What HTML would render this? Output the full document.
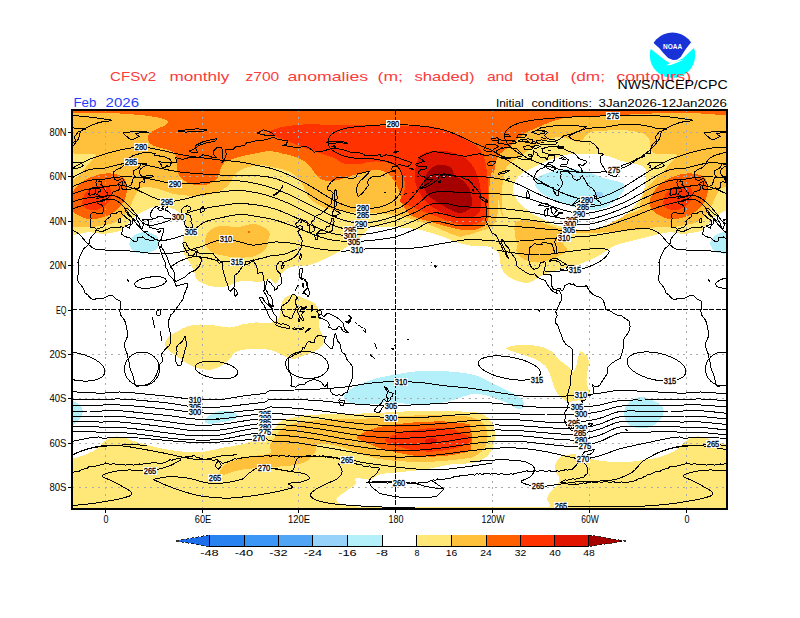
<!DOCTYPE html>
<html><head><meta charset="utf-8"><title>CFSv2 monthly z700 anomalies</title>
<style>
html,body{margin:0;padding:0;background:#fff;}
body{width:800px;height:618px;overflow:hidden;font-family:"Liberation Sans",sans-serif;}
svg{display:block;position:absolute;left:0;top:0;}
text{font-family:"Liberation Sans",sans-serif;}
</style></head><body>
<svg width="800" height="618" viewBox="0 0 800 618">
<defs><clipPath id="fc"><rect x="72" y="110" width="655" height="399"/></clipPath></defs>
<rect x="0" y="0" width="800" height="618" fill="#fff"/>

<g clip-path="url(#fc)" shape-rendering="crispEdges">
<path id="s0" d="M104 234C105.4 233.8 109.8 233 112.5 232.5C115.2 232 117.7 232.2 120 231C122.3 229.8 124.2 227.7 126.2 225.5C128.3 223.3 130 220.2 132.5 218C135 215.8 138.3 214.2 141.2 212.5C144.2 210.8 147.2 209 150 208C152.8 207 154.7 206.3 158 206.2C161.3 206.2 166.3 206.4 170 207.5C173.7 208.6 177.6 211 180 213C182.4 215 183.4 217 184.2 219.2C185.1 221.5 185.1 224.2 185 226.8C184.9 229.2 184.1 231.5 183.8 234.2C183.4 237 183 239.9 183 243C183 246.1 183.5 251 183.8 253C184 255 183.7 253.6 184.5 255C185.3 256.4 187.2 258.8 188.8 261.2C190.3 263.8 192.5 267.1 193.8 270C195 272.9 194.6 276.5 196.2 278.8C197.9 281 200.6 282.4 203.8 283.8C206.9 285.1 211 286.6 215 287C219 287.4 223.3 287 227.5 286C231.7 285 236.2 281.8 240 281C243.8 280.2 246.7 281.1 250 281.2C253.3 281.4 256.7 282.4 260 282C263.3 281.6 267.3 278.7 270 279C272.7 279.3 274.4 284.6 276.2 283.8C278.1 282.9 279 276.5 281.2 273.8C283.5 271 286.9 268.8 290 267.5C293.1 266.2 296.7 266.2 300 265.8C303.3 265.3 306.2 266 310 265C313.8 264 317.9 262.1 322.5 260C327.1 257.9 332.3 255.4 337.5 252.5C342.7 249.6 349.2 245.8 353.8 242.5C358.3 239.2 362.3 235 365 232.5C367.7 230 366.7 228.4 370 227.5C373.3 226.6 380 227 385 227C390 227 395 227.2 400 227.5C405 227.8 410 227.9 415 228.8C420 229.6 425 231 430 232.5C435 234 440.4 235.8 445 237.5C449.6 239.2 453.3 241.2 457.5 242.5C461.7 243.8 465.8 244.9 470 245.5C474.2 246.1 478.8 246 482.5 246.2C486.2 246.5 490 246.2 492.5 247C495 247.8 496.2 249.3 497.5 251.2C498.8 253.2 499.4 256 500 258.8C500.6 261.5 500.2 264.8 501.2 267.5C502.3 270.2 504 272.9 506.2 275C508.5 277.1 511.9 278.7 515 280C518.1 281.3 522.1 282.8 525 283C527.9 283.2 530 282.4 532.5 281.2C535 280.1 537.1 277.7 540 276.2C542.9 274.8 546.7 273.6 550 272.5C553.3 271.4 556.7 270.4 560 269.5C563.3 268.6 567.1 267.8 570 267C572.9 266.2 574.2 266.2 577.5 265C580.8 263.8 586.2 261.7 590 260C593.8 258.3 597.1 256.7 600 255C602.9 253.3 605 251.6 607.5 250C610 248.4 612.1 246.8 615 245.5C617.9 244.2 620.8 243.6 625 242.5C629.2 241.4 635 240 640 238.8C645 237.5 650 236.1 655 235C660 233.9 666.7 232.3 670 232C673.3 231.7 672.3 232.7 675 233C677.7 233.3 684.2 233.8 686 234L686 100L104 100Z" fill="#ffe878"/>
<use href="#s0" x="581"/>
<use href="#s0" x="-581"/>
<path id="s1" d="M104 225C105.8 224.6 111.9 223.8 115 222.5C118.1 221.2 120.3 219.6 122.5 217.5C124.7 215.4 126.4 212.5 128 210C129.6 207.5 130.8 205 132 202.5C133.2 200 134.4 197.2 135.5 195C136.6 192.8 137.2 190.6 138.8 189.2C140.3 187.9 142.3 187.2 145 187C147.7 186.8 151.7 187.3 155 188C158.3 188.7 161.7 190.2 165 191.2C168.3 192.3 171.2 193.5 175 194.2C178.8 195 183.3 195.2 187.5 195.5C191.7 195.8 196.2 196.2 200 196C203.8 195.8 206.7 195.1 210 194.2C213.3 193.4 217.1 192.4 220 191C222.9 189.6 225.6 187.8 227.5 186C229.4 184.2 230 182.5 231.2 180.5C232.5 178.5 233.1 176.1 235 174.2C236.9 172.4 239.6 170.6 242.5 169.2C245.4 167.9 249.2 166.7 252.5 166C255.8 165.3 259.6 164.9 262.5 165C265.4 165.1 266.7 166 270 166.8C273.3 167.5 278.8 168.1 282.5 169.2C286.2 170.4 289.8 171.8 292.5 173.5C295.2 175.2 296.9 177 298.8 179.2C300.6 181.5 302.3 184 303.8 186.8C305.2 189.5 305.8 193 307.5 195.5C309.2 198 311.2 199.9 313.8 201.8C316.2 203.6 319 205.3 322.5 206.8C326 208.2 330.4 209.7 335 210.5C339.6 211.3 345 211.4 350 211.8C355 212.1 361.7 212.4 365 212.5C368.3 212.6 366.7 212.3 370 212.5C373.3 212.7 380 213.1 385 213.8C390 214.4 395 215.2 400 216.2C405 217.3 410 218.5 415 220C420 221.5 425 223.1 430 225C435 226.9 440.4 229.4 445 231.2C449.6 233.1 453.3 235 457.5 236.2C461.7 237.5 466.2 238.5 470 238.8C473.8 239 477.1 238.6 480 238C482.9 237.4 485.4 236.3 487.5 235C489.6 233.7 490.8 231.2 492.5 230C494.2 228.8 495.4 227.5 497.5 227.5C499.6 227.5 502.5 228.5 505 230C507.5 231.5 510.8 233.8 512.5 236.2C514.2 238.8 514.2 242.1 515 245C515.8 247.9 515.8 251.2 517.5 253.8C519.2 256.2 521.7 258.5 525 260C528.3 261.5 533.3 262.5 537.5 262.5C541.7 262.5 546.2 261.2 550 260C553.8 258.8 557.1 256.7 560 255C562.9 253.3 567.7 252.9 567.5 250C567.3 247.1 558.3 240.2 558.8 237.4C559.2 234.6 564.4 234.1 570 233.3C575.6 232.6 585 233.2 592.5 232.9C600 232.6 610.4 232 615 231.8C619.6 231.5 616.9 231.6 620 231.4C623.1 231.1 629.1 230.7 633.6 230.2C638.1 229.7 642.6 229 647.2 228.4C651.7 227.9 656.2 227.1 660.7 226.8C665.3 226.6 670.1 227.1 674.3 226.8C678.5 226.5 684.1 225.3 686 225L686 100L104 100Z" fill="#ffc03c"/>
<use href="#s1" x="581"/>
<use href="#s1" x="-581"/>
<path id="s2" d="M503 183C502.7 185 502.2 186.3 502.1 188.5C501.9 190.8 502.1 193.9 502.1 196.6C502.1 199.3 502 202 502.1 204.7C502.1 207.4 502 210.4 502.4 212.8C502.8 215.2 503.3 217.7 504.5 219.3C505.7 220.9 507.3 222.1 509.4 222.5C511.4 222.9 514.1 222.3 516.6 221.7C519.2 221.2 522 219.6 524.7 219.3C527.4 219 530.1 219.6 532.8 220.1C535.5 220.6 537.9 221.6 540.9 222.5C543.9 223.5 547.5 224.8 550.6 225.8C553.8 226.7 556.7 228.3 559.9 228.2C563.1 228 566.4 226.1 570 225C573.6 223.9 577.5 222.6 581.3 221.6C585 220.7 588.4 219.9 592.5 219.4C596.6 218.8 601.5 218.8 606 218.3C610.5 217.7 615 216.9 619.5 216C624 215.1 628.9 214.1 633 212.6C637.1 211.1 643 207.9 644.3 207C645.5 206.2 640.8 209 640.4 207.6C639.9 206.2 640.6 201.6 641.5 198.5C642.4 195.5 644 192.5 646 189.5C648.1 186.5 651.3 183.1 654 180.4C656.6 177.8 659.4 176.3 661.9 173.6C664.3 171 666.1 167.7 668.7 164.6C671.2 161.5 677.6 156.6 677 154.9C676.5 153.1 669.1 154.2 665.3 153.9C661.4 153.7 656.5 154.3 654 153.3C651.4 152.3 650.7 149.9 650 148C649.3 146.1 650.4 143.9 650 142C649.6 140.1 648.8 138.2 647.5 136.8C646.2 135.2 645 133.9 642.5 133C640 132.1 636.2 131.6 632.5 131.1C628.8 130.6 624.2 130 620 129.9C615.8 129.8 611.7 130.3 607.5 130.5C603.3 130.7 598.2 130.6 595 131.1C591.8 131.6 589.8 132.3 588 133.5C586.2 134.7 585.3 136.6 584 138C582.7 139.4 581.7 141.5 580 142C578.3 142.5 576.1 141.6 574 141C571.9 140.4 569.8 139.2 567.5 138.5C565.2 137.8 562.5 137.1 560 137C557.5 136.9 555 137.4 552.5 138C550 138.6 547.5 139.5 545 140.5C542.5 141.5 540 142.8 537.5 144.2C535 145.7 532.5 147.6 530 149.2C527.5 150.9 525 152.6 522.5 154.2C520 155.9 517.3 157.6 515 159.2C512.7 160.9 510.4 162.4 508.8 164.2C507.1 166.1 505.8 168.4 505 170.5C504.2 172.6 504.1 174.7 503.8 176.8C503.4 178.8 503.3 181 503 183Z" fill="#ffe878"/>
<use href="#s2" x="-581"/>
<path id="s3" d="M497.5 196C497.3 196 498.3 201.8 498.3 205C498.3 208.2 497.9 212 497.3 215C496.7 218 495.6 220.9 494.5 223C493.4 225.1 492.2 226.3 490.5 227.5C488.8 228.7 486.4 229.2 484 230C481.6 230.8 478.3 231.8 476 232.5C473.7 233.2 472.3 233.8 470 234.5C467.7 235.2 462.8 235.4 462 236.5C461.2 237.6 462 239.8 465 241C468 242.2 475.5 242.8 480 244C484.5 245.2 488.7 246.5 492 248C495.3 249.5 497.3 252 500 253C502.7 254 505.3 254.5 508 254C510.7 253.5 514.4 251.7 516 250C517.6 248.3 517.6 246 517.5 244C517.4 242 516.1 240.5 515.6 238C515.1 235.5 514.5 231.8 514.4 229C514.3 226.2 515.7 222.3 515 221C514.3 219.7 511.7 221.3 510 221C508.3 220.7 506.5 220.3 505 219C503.5 217.7 501.9 215.3 501 213C500.1 210.7 500.1 207.8 499.5 205C498.9 202.2 497.7 196 497.5 196Z" fill="#ffe878"/>
<path id="s4" d="M513.8 184C514.3 181.9 515 180.7 516.2 179C517.5 177.3 519.4 175.5 521.2 174C523.1 172.5 525 171.3 527.5 170C530 168.7 533.3 167.3 536.2 166C539.2 164.7 541.9 163.3 545 162C548.1 160.7 551.2 159.2 555 158C558.8 156.8 562.9 155.2 567.5 154.5C572.1 153.8 577.9 154.1 582.5 154C587.1 153.9 590.8 153.7 595 154C599.2 154.3 603.3 154.9 607.5 156C611.7 157.1 616.2 159.3 620 160.5C623.8 161.7 626.7 162.2 630 163C633.3 163.8 637.5 164.2 640 165C642.5 165.8 643.9 166.7 645 168C646.1 169.3 646.4 170.5 646.5 173C646.6 175.5 646.2 179.5 645.5 183C644.8 186.5 644.5 190.3 642.5 194.2C640.5 198.2 637.1 203 633.8 206.8C630.4 210.5 626.5 214 622.5 216.8C618.5 219.5 614.6 221.5 610 223.5C605.4 225.5 600 227.7 595 228.8C590 229.8 585 230 580 229.8C575 229.5 570 228.6 565 227.5C560 226.4 554.6 224.8 550 223C545.4 221.2 541.5 219 537.5 216.8C533.5 214.5 529.6 212 526.2 209.2C522.9 206.5 519.7 203.4 517.5 200.5C515.3 197.6 513.6 194.5 513 191.8C512.4 189 513.2 186.1 513.8 184Z" fill="#ffffff"/>
<path id="s5" d="M535.1 182.3C535.7 180.6 536.9 178.2 539 176.6C541 175.1 544.2 173.9 547.5 172.8C550.8 171.7 555 170.7 558.8 170.1C562.5 169.5 566.3 169.2 570 169.2C573.8 169.2 577.5 169.4 581.3 170.1C585 170.9 588.4 172.2 592.5 173.7C596.6 175.2 601.9 177.6 606 178.9C610.1 180.1 614.3 180.2 617.3 181.1C620.3 182.1 622.9 183 624 184.5C625.1 186 624.8 188.3 624 190.1C623.3 192 621.4 193.7 619.5 195.8C617.6 197.8 615.4 200.4 612.8 202.5C610.1 204.6 607.1 206.8 603.8 208.1C600.4 209.4 596.3 210.2 592.5 210.4C588.8 210.6 585 210 581.3 209.3C577.5 208.5 573.8 207.2 570 205.9C566.3 204.6 562.5 202.9 558.8 201.4C555 199.9 550.7 198.6 547.5 196.9C544.3 195.2 541.6 192.9 539.6 191.3C537.7 189.6 536.6 188.3 535.8 186.8C535.1 185.3 534.6 183.9 535.1 182.3Z" fill="#b4f0fa"/>
<path id="s6" d="M595.9 192.4C596.8 191.8 600.3 192 601.5 192.4C602.7 192.8 603.5 193.9 603.3 194.6C603.1 195.4 601.6 196.7 600.4 196.9C599.1 197.1 596.6 196.5 595.9 195.8C595.1 195 594.9 192.9 595.9 192.4Z" fill="#96d2fa"/>
<path id="s7" d="M205 243C204.6 240 205.8 235.6 207.5 233C209.2 230.4 212.1 228.8 215 227.5C217.9 226.2 221.7 225.5 225 225.5C228.3 225.5 231.7 227.5 235 227.5C238.3 227.5 241.7 226.1 245 225.5C248.3 224.9 251.7 223.6 255 224C258.3 224.4 262.5 226.3 265 228C267.5 229.7 269.6 231.7 270 234C270.4 236.3 268.3 239.3 267.5 242C266.7 244.7 267.1 247.7 265 250C262.9 252.3 258.3 254.8 255 256C251.7 257.2 248.8 257.3 245 257.5C241.2 257.7 236.7 257.4 232.5 257C228.3 256.6 223.8 256 220 255C216.2 254 212.5 253 210 251C207.5 249 205.4 246 205 243Z" fill="#ffc03c"/>
<path id="s8" d="M248 231L250 231L250 233L248 233Z" fill="#ff6000"/>
<path id="s9" d="M104 113C106.7 113.1 113.2 113.1 120 113.5C126.8 113.9 137.9 114.7 145 115.5C152.1 116.3 158.7 117.5 162.5 118.5C166.3 119.5 167.6 120.6 168 121.8C168.4 122.9 167 124.2 165 125.5C163 126.8 158.8 128 156.2 129.2C153.7 130.5 151 131.5 149.5 133C148 134.5 147.5 136.3 147.5 138C147.5 139.7 148 141.5 149.5 143C151 144.5 153.5 145.7 156.2 146.8C159 147.8 163.3 148.3 166.2 149.2C169.2 150.2 172 151 173.8 152.5C175.5 154 176.5 155.6 177 158C177.5 160.4 176.8 164.2 177 166.8C177.2 169.2 177.1 170.9 178 173C178.9 175.1 180.5 177.5 182.5 179.2C184.5 181 187.1 182.7 190 183.8C192.9 184.8 196.7 185.5 200 185.5C203.3 185.5 207.1 184.8 210 183.5C212.9 182.2 215.8 180.4 217.5 178C219.2 175.6 219.3 171.8 220.5 169.2C221.7 166.7 222.5 164.2 224.5 162.5C226.5 160.8 229.1 159.9 232.5 158.8C235.9 157.6 240.8 156.5 245 155.5C249.2 154.5 253.3 153.8 257.5 153C261.7 152.2 265.8 150.9 270 151C274.2 151.1 278.3 152.5 282.5 153.5C286.7 154.5 291.2 155.4 295 156.8C298.8 158.1 302.3 159.9 305 161.8C307.7 163.6 309.5 165.9 311.2 168C313 170.1 313.8 172.4 315.5 174.2C317.2 176.1 318.8 178.1 321.2 179.2C323.7 180.4 326.7 181 330 181C333.3 181 337.5 180.2 341.2 179.2C345 178.3 348.5 176.8 352.5 175.5C356.5 174.2 361 172.7 365 171.8C369 170.8 372.9 170 376.2 170C379.6 170 382.5 170.6 385 171.8C387.5 172.9 389.4 174.7 391.2 176.8C393.1 178.8 394.9 181.8 396.2 184.2C397.6 186.8 398.7 189.2 399.5 191.8C400.3 194.2 400.5 196.8 401.2 199.2C402 201.8 402.5 204.5 403.8 206.8C405 209 407.4 211.5 408.8 213C410.1 214.5 409.5 214.8 412.1 216C414.7 217.2 420.2 218.9 424.3 220.1C428.3 221.4 432.4 222.4 436.4 223.5C440.5 224.7 444.5 225.9 448.5 226.9C452.6 227.9 456.6 229 460.7 229.6C464.7 230.2 469.2 230.8 472.8 230.3C476.5 229.9 480 228.6 482.5 226.9C485 225.2 486.8 222.5 487.9 220.1C489 217.8 489 215.4 489.1 212.8C489.3 210.2 488.8 207.4 488.8 204.7C488.8 202 489 199.3 489.1 196.6C489.2 193.9 489.3 191.2 489.4 188.5C489.6 185.8 489.6 183.1 489.9 180.5C490.3 177.8 490.9 173.6 491.6 172.4C492.2 171.1 493.2 173.9 493.8 173C494.3 172.1 494.6 168.8 495 166.8C495.4 164.7 495.6 162.4 496.2 160.5C496.9 158.6 497.7 157 498.8 155.5C499.8 154 501 153 502.5 151.8C504 150.5 505.8 149.2 507.5 148C509.2 146.8 510.8 145.7 512.5 144.2C514.2 142.8 515.8 140.8 517.5 139.2C519.2 137.7 520.8 136.2 522.5 134.9C524.2 133.7 525.4 132.8 527.5 131.8C529.6 130.7 532.1 129.8 535 128.6C537.9 127.3 541.7 125.6 545 124.2C548.3 122.9 551.2 121.6 555 120.5C558.8 119.4 563.3 118.1 567.5 117.4C571.7 116.7 574.6 116.5 580 116.2C585.4 116 593.3 116 600 115.8C606.7 115.5 613.3 115.3 620 115C626.7 114.7 634.2 114.3 640 114C645.8 113.7 650 113.6 655 113.4C660 113.2 664.8 113.2 670 113.1C675.2 113 683.3 113 686 113L686 100L104 100Z" fill="#ff6000"/>
<use href="#s9" x="581"/>
<use href="#s9" x="-581"/>
<path id="s10" d="M649.4 203.1C649.5 200.8 650.4 197.8 651.7 195.1C653 192.5 655.1 189.7 657.3 187.2C659.6 184.8 662.3 182.3 665.3 180.4C668.3 178.5 672.1 177 675.5 175.9C678.9 174.8 682.1 173.9 685.6 173.6C689.2 173.3 693.8 173.3 697 174.1C700.2 174.8 703.1 176.2 704.9 178.2C706.7 180.2 707.4 183.3 707.8 186.1C708.2 188.9 707.8 192.3 707.1 195.1C706.5 198 705.3 200.6 703.7 203.1C702.2 205.5 700.5 207.8 698.1 209.9C695.6 211.9 692.2 214.1 689 215.5C685.8 216.9 682.4 218 678.9 218.5C675.3 218.9 671.1 219.1 667.5 218.5C663.9 217.8 660.1 216 657.3 214.4C654.6 212.8 652.6 210.6 651.2 208.7C649.9 206.8 649.3 205.3 649.4 203.1Z" fill="#ff6000"/>
<use href="#s10" x="-581"/>
<path id="s11" d="M663.4 201.9C663.6 199.9 664.2 196.3 665.7 194C667.2 191.7 669.8 189.8 672.5 188.4C675.1 186.9 678.7 185.6 681.5 185.4C684.3 185.2 687.5 186 689.4 187.2C691.3 188.5 692.6 190.6 692.8 192.9C693 195.1 691.9 198.5 690.6 200.8C689.2 203.1 687.2 204.9 684.9 206.5C682.6 208 679.6 209.8 677 210.3C674.3 210.8 671.1 210 669.1 209.4C667 208.8 665.5 207.7 664.5 206.5C663.6 205.2 663.2 204 663.4 201.9Z" fill="#ff3200"/>
<use href="#s11" x="-581"/>
<path id="s12" d="M268 133.5C267.8 132.8 267.2 132.2 270 131C272.8 129.8 278.8 127.6 285 126.5C291.2 125.4 299.6 124.5 307.5 124.2C315.4 124 322.1 124.8 332.5 125C342.9 125.2 359.6 125.3 370 125.5C380.4 125.7 387.6 126 395 126C402.4 126 408.9 125.4 414.6 125.5C420.3 125.5 423.5 125.3 429.1 126.2C434.8 127.1 442.5 128.8 448.5 131.1C454.6 133.3 460.7 136.9 465.5 139.6C470.4 142.2 474.6 144 477.7 146.8C480.7 149.7 482.2 152.5 483.7 156.5C485.3 160.6 486.2 165.8 486.9 171.1C487.6 176.4 487.8 182.4 487.9 188.1C487.9 193.8 487.8 200.4 487.4 205.1C487 209.7 486.7 213.2 485.4 216C484.2 218.8 482.6 220.6 480.1 222.1C477.6 223.6 473.6 224.6 470.4 225C467.2 225.4 464.3 224.9 460.7 224.3C457 223.6 452.6 222.4 448.5 221.1C444.5 219.8 440.5 217.8 436.4 216.3C432.4 214.7 428.3 213.5 424.3 211.9C420.2 210.3 416.2 208.5 412.1 206.8C408.1 205 401.4 203.5 400 201.4C398.6 199.4 402.7 196.9 403.5 194.2C404.3 191.6 405 188.3 405 185.5C405 182.7 404.3 179.8 403.5 177.2C402.7 174.8 401.8 172.7 400 170.5C398.2 168.3 395.4 165.7 392.5 164.2C389.6 162.8 386.2 162.2 382.5 161.8C378.8 161.3 373.8 161.4 370 161.8C366.2 162.1 364.2 163.6 360 164C355.8 164.4 349.2 164.9 345 164C340.8 163.1 339.2 160.3 335 158.5C330.8 156.7 324.2 154.4 320 153C315.8 151.6 313.3 151.2 310 150C306.7 148.8 303.3 147.3 300 146C296.7 144.7 293.3 143.3 290 142C286.7 140.7 283.2 139.2 280 138C276.8 136.8 273 135.8 271 135C269 134.2 268.2 134.2 268 133.5Z" fill="#ff3200"/>
<path id="s13" d="M415.8 166.3C416.8 162.4 418 157.8 420.6 155.3C423.3 152.8 427.3 151.9 431.6 151.2C435.8 150.5 441.3 150.5 446.1 151.2C451 151.9 456.6 153.4 460.7 155.3C464.7 157.2 467.8 159.6 470.4 162.6C473 165.6 474.8 169.7 476.5 173.5C478.1 177.4 479.3 181.2 480.1 185.7C480.9 190.1 481.3 196 481.3 200.2C481.3 204.5 481.5 208.3 480.1 211.2C478.7 214 475.8 216 472.8 217.2C469.8 218.4 465.5 218.6 461.9 218.4C458.3 218.3 454.8 217.8 451 216.5C447.1 215.2 442.9 213 438.8 210.7C434.8 208.4 430.1 206 426.7 202.7C423.3 199.3 420.2 194.6 418.2 190.5C416.2 186.5 415 182.4 414.6 178.4C414.2 174.3 414.8 170.1 415.8 166.3Z" fill="#e11400"/>
<path id="s14" d="M424.3 188.1C423.7 184.7 424.3 179.4 425.5 176C426.7 172.5 428.9 169.3 431.6 167.5C434.2 165.6 438 165 441.3 165C444.5 165 448.7 165.8 451 167.5C453.2 169.1 452.6 172.5 454.6 174.7C456.6 177 460.7 178.6 463.1 180.8C465.5 183 467.8 185.3 469.2 188.1C470.6 190.9 471.2 194.8 471.6 197.8C472 200.8 472.6 204 471.6 206.3C470.6 208.6 468 210.6 465.5 211.6C463.1 212.7 459.9 213.1 457 212.6C454.2 212.1 451.6 210.3 448.5 208.7C445.5 207.1 442.1 204.9 438.8 202.9C435.6 200.9 431.6 199.1 429.1 196.6C426.7 194.1 424.9 191.5 424.3 188.1Z" fill="#a50000"/>
<path id="s15" d="M129.2 244.2C128.9 241.8 130.5 238.7 132.5 236.8C134.5 234.8 138.1 233.1 141.2 232.5C144.4 231.9 148.5 232.1 151.2 233C154 233.9 156.8 235.9 158 238C159.2 240.1 159.5 243.3 158.8 245.5C158 247.7 156.2 249.7 153.8 251C151.2 252.3 147 253.4 143.8 253.5C140.5 253.6 136.9 253.3 134.5 251.8C132.1 250.2 129.6 246.8 129.2 244.2Z" fill="#b4f0fa"/>
<use href="#s15" x="581"/>
<path id="s16" d="M165 343.8C165.4 341.9 166.7 338.3 168.8 336.2C170.8 334.2 174.4 332.9 177.5 331.2C180.6 329.6 183.8 327.4 187.5 326.2C191.2 325.1 195.4 324.6 200 324.5C204.6 324.4 210 325 215 325.5C220 326 225.4 327.7 230 327.5C234.6 327.3 238.3 325.3 242.5 324.5C246.7 323.7 250.8 322.8 255 322.5C259.2 322.2 264.2 323.2 267.5 323C270.8 322.8 272.9 322.6 275 321.2C277.1 319.9 279 317.7 280 315C281 312.3 280.4 307.9 281.2 305C282.1 302.1 282.9 299.2 285 297.5C287.1 295.8 290.4 294.8 293.8 295C297.1 295.2 301.5 297.3 305 298.8C308.5 300.2 312.5 301.5 315 303.8C317.5 306 319.4 309.6 320 312.5C320.6 315.4 318.8 318.3 318.8 321.2C318.8 324.2 319.2 327.3 320 330C320.8 332.7 323.3 335 323.8 337.5C324.2 340 324 342.7 322.5 345C321 347.3 317.9 349.6 315 351.2C312.1 352.9 308.3 353.8 305 355C301.7 356.2 297.9 358.3 295 358.8C292.1 359.2 290 358.3 287.5 357.5C285 356.7 282.9 355 280 353.8C277.1 352.5 273.8 350.8 270 350C266.2 349.2 261.7 348.8 257.5 348.8C253.3 348.7 248.8 348.9 245 349.5C241.2 350.1 237.5 351 235 352.5C232.5 354 232.1 356.7 230 358.8C227.9 360.8 225.4 363.2 222.5 365C219.6 366.8 216.2 368.9 212.5 369.5C208.8 370.1 203.8 369.5 200 368.8C196.2 368 193.3 366.7 190 365C186.7 363.3 183.1 360.8 180 358.8C176.9 356.7 173.5 354.4 171.2 352.5C169 350.6 167.3 349 166.2 347.5C165.2 346 164.6 345.6 165 343.8Z" fill="#ffe878"/>
<path id="s17" d="M506 347.9C506.5 347.1 510.1 346.3 512.9 345.8C515.6 345.3 519.1 344.9 522.5 344.9C525.9 344.8 530.1 345 533.5 345.4C537 345.8 540.2 346.2 543.1 347.2C546.1 348.2 549.3 349.9 551.4 351.3C553.5 352.7 554.1 354 555.5 355.4C556.9 356.9 558 358.8 559.6 360.3C561.3 361.8 563.4 363 565.2 364.4C566.9 365.8 568.8 367.4 570 368.5C571.1 369.7 571.3 370.8 572 371.3C572.7 371.7 573.4 372.2 574.1 371.3C574.8 370.3 575.6 367.6 576.2 365.8C576.7 363.9 577.1 362.1 577.5 360.3C578 358.4 578.4 356.2 578.9 354.8C579.4 353.3 579.6 351.7 580.3 351.3C581 351 582 352 583 352.7C584.1 353.4 585.6 354.3 586.5 355.4C587.4 356.6 588.2 357.9 588.5 359.6C588.9 361.3 588.8 363.6 588.5 365.8C588.3 367.9 587.5 370.3 587.2 372.6C586.8 374.9 586.5 377.5 586.5 379.5C586.5 381.6 586.7 383.2 587.2 385C587.6 386.9 589 388.9 589.2 390.5C589.5 392.1 589.1 393.3 588.5 394.6C588 396 586.7 397.7 585.8 398.8C584.9 399.8 584.4 400.6 583 400.8C581.7 401.1 579.4 400.3 577.5 400.4C575.7 400.5 573.6 401.2 572 401.5C570.4 401.8 569.3 402.6 567.9 402.2C566.5 401.9 565.2 400.5 563.8 399.5C562.4 398.4 560.9 397.3 559.6 396C558.4 394.8 557.1 393.5 556.2 391.9C555.3 390.3 554.8 388.2 554.1 386.4C553.5 384.6 552.8 383 552.1 380.9C551.4 378.8 550.8 376.1 550 374C549.2 372 548.6 370.3 547.3 368.5C545.9 366.7 543.8 364.6 541.8 363C539.7 361.4 537.4 360 534.9 358.9C532.4 357.7 529.4 357.1 526.6 356.1C523.9 355.2 521.1 354.3 518.4 353.4C515.6 352.5 512.2 351.5 510.1 350.6C508.1 349.7 505.5 348.7 506 347.9Z" fill="#ffe878"/>
<path id="s18" d="M104 441.5C105.4 440.8 109.4 437.8 112.5 437C115.6 436.2 119.2 436.4 122.5 437C125.8 437.6 128.8 439.5 132.5 440.8C136.2 442 140.4 443.2 145 444.5C149.6 445.8 155 447.2 160 448.2C165 449.3 170 450.1 175 450.8C180 451.4 185 451.9 190 452C195 452.1 200 452.1 205 451.5C210 450.9 215 449.2 220 448.2C225 447.3 230 446.8 235 445.8C240 444.7 245.8 443.5 250 442C254.2 440.5 256.7 438.5 260 437C263.3 435.5 266.7 435.8 270 433.2C273.3 430.8 276.7 424.5 280 422C283.3 419.5 286.2 419.3 290 418.2C293.8 417.2 297.5 416.4 302.5 415.8C307.5 415.1 312.9 414.8 320 414.5C327.1 414.2 336.7 414.2 345 414C353.3 413.8 361.7 413.6 370 413.2C378.3 412.9 386.7 412.4 395 412C403.3 411.6 411.7 411 420 410.8C428.3 410.5 436.7 410.5 445 410.8C453.3 411 464.2 411.6 470 412C475.8 412.4 476.9 412.2 480 413.2C483.1 414.3 486.5 416 488.8 418.2C491 420.5 492.7 423.9 493.8 427C494.8 430.1 495.2 433.5 495 437C494.8 440.5 493.8 445.1 492.5 448.2C491.2 451.4 489.6 453.7 487.5 455.8C485.4 457.8 482.9 459.5 480 460.8C477.1 462 475 462.6 470 463.2C465 463.9 457.5 463.5 450 464.5C442.5 465.5 433.3 468.2 425 469.5C416.7 470.8 407.5 471.2 400 472C392.5 472.8 385 473.2 380 474.5C375 475.8 374 478.9 370 479.5C366 480.1 358.8 477.4 356.2 478.2C353.8 479.1 356.9 482.2 355 484.5C353.1 486.8 348.1 489.5 345 492C341.9 494.5 336.2 497.3 336.2 499.5C336.2 501.7 339.4 503.8 345 505C350.6 506.2 349.2 506.5 370 506.8C390.8 507 447.1 506.8 470 506.8C492.9 506.8 495 506.8 507.5 506.8C520 506.8 537.9 507 545 506.8C552.1 506.5 549.7 506.2 550 505C550.3 503.8 547 501.7 547 499.5C547 497.3 548.2 494.5 550 492C551.8 489.5 556 487 557.5 484.5C559 482 559.2 479.5 558.8 477C558.3 474.5 555.4 472 555 469.5C554.6 467 555.2 464.2 556.2 462C557.3 459.8 559 457.8 561.2 456.5C563.5 455.2 566.9 454.8 570 454.5C573.1 454.2 576.7 454.4 580 455C583.3 455.6 586.7 457.3 590 458.2C593.3 459.2 595.8 460.1 600 460.8C604.2 461.4 610 461.8 615 462C620 462.2 625 462.4 630 462C635 461.6 640 460.3 645 459.5C650 458.7 655 458.5 660 457C665 455.5 670.8 453.2 675 450.8C679.2 448.2 683.2 443.5 685 442C686.8 440.5 685.8 441.6 686 441.5L686 520L104 520Z" fill="#ffe878"/>
<use href="#s18" x="581"/>
<use href="#s18" x="-581"/>
<path id="s19" d="M220 473.2C219.6 472 220.8 468.9 222.5 467C224.2 465.1 226.7 463.5 230 462C233.3 460.5 238.3 459.3 242.5 458.2C246.7 457.2 250.4 456.6 255 455.8C259.6 454.9 267.5 455.1 270 453.2C272.5 451.4 269.2 447.2 270 444.5C270.8 441.8 272.9 439.7 275 437C277.1 434.3 279.2 430.5 282.5 428.2C285.8 426 290.4 424.5 295 423.2C299.6 422 303.8 421.4 310 420.8C316.2 420.1 324.6 419.8 332.5 419.5C340.4 419.2 349.2 419.3 357.5 419C365.8 418.7 374.2 418 382.5 417.5C390.8 417 399.2 416.2 407.5 415.8C415.8 415.3 424.2 415 432.5 415C440.8 415 451.2 415.4 457.5 415.8C463.8 416.1 466.5 416.3 470 417C473.5 417.7 476.2 418.5 478.8 420C481.2 421.5 483.5 423.3 485 425.8C486.5 428.2 487.3 431.4 487.5 434.5C487.7 437.6 487.3 441.6 486.2 444.5C485.2 447.4 483.3 450 481.2 452C479.2 454 475.6 455.5 473.8 456.5C471.9 457.5 474.8 457 470 457.8C465.2 458.5 453.3 460 445 460.8C436.7 461.5 428.3 462 420 462C411.7 462 402.5 461.4 395 460.8C387.5 460.1 380.8 459.5 375 458.2C369.2 457 365 454.9 360 453.2C355 451.6 350 449.7 345 448.2C340 446.8 334.6 445.1 330 444.5C325.4 443.9 320 443.2 317.5 444.5C315 445.8 316.7 449.3 315 452C313.3 454.7 310.8 458.6 307.5 460.8C304.2 462.9 299.6 464 295 465C290.4 466 284.2 466.2 280 466.5C275.8 466.8 274.2 466.7 270 467C265.8 467.3 259.6 467.8 255 468.2C250.4 468.7 246.2 468.9 242.5 469.5C238.8 470.1 235.4 471.2 232.5 472C229.6 472.8 227.1 474.3 225 474.5C222.9 474.7 220.4 474.5 220 473.2Z" fill="#ffc03c"/>
<path id="s20" d="M357.5 437C358.5 435.8 361.7 433.6 365 432C368.3 430.4 372.5 428.8 377.5 427.5C382.5 426.2 387.9 425.4 395 424.5C402.1 423.6 411.7 422.5 420 422C428.3 421.5 437.9 421.3 445 421.5C452.1 421.7 458.3 422.8 462.5 423.2C466.7 423.8 468.8 423.8 470 424.5C471.2 425.2 469.8 426 470 427.5C470.2 429 471.2 431.2 471.5 433.2C471.8 435.2 472.1 437.4 472 439.5C471.9 441.6 471.3 443.9 471 445.8C470.7 447.6 472.7 449.3 470 450.8C467.3 452.2 460.8 453.5 455 454.5C449.2 455.5 441.7 456.3 435 456.5C428.3 456.7 421.7 456.5 415 455.8C408.3 455 400.8 453.2 395 452C389.2 450.8 384.6 449.7 380 448.2C375.4 446.8 371 444.7 367.5 443.2C364 441.8 360.4 440.5 358.8 439.5C357.1 438.5 356.5 438.2 357.5 437Z" fill="#ff6000"/>
<path id="s21" d="M385 439.5C386 438 390.8 436 395 434.5C399.2 433 404.2 431.8 410 430.8C415.8 429.7 423.3 428.5 430 428.2C436.7 428 444.6 428.2 450 429C455.4 429.8 459.2 431.9 462.5 433.2C465.8 434.6 468.5 435.8 470 437C471.5 438.2 472.3 439.3 471.2 440.8C470.2 442.2 467.3 444.3 463.8 445.8C460.2 447.2 455.2 448.5 450 449.5C444.8 450.5 438.3 451.3 432.5 451.5C426.7 451.7 420.4 451.5 415 450.8C409.6 450 404.4 448.2 400 447C395.6 445.8 391.2 444.5 388.8 443.2C386.2 442 384 441 385 439.5Z" fill="#ff3200"/>
<path id="s22" d="M425 440C425.6 439.2 429.2 438.2 431.2 438.2C433.3 438.2 436.9 439.2 437.5 440C438.1 440.8 436.7 442.2 435 442.8C433.3 443.2 429.2 443.5 427.5 443C425.8 442.5 424.4 440.8 425 440Z" fill="#e11400"/>
<path id="s23" d="M343.8 397C344.2 395 346.9 391.8 350 389.5C353.1 387.2 357.9 385.1 362.5 383.2C367.1 381.4 372.1 379.7 377.5 378.2C382.9 376.8 388.8 375.6 395 374.5C401.2 373.4 408.3 372.1 415 371.5C421.7 370.9 428.3 370.7 435 370.8C441.7 370.8 449.2 371.5 455 372C460.8 372.5 465.8 373.2 470 374C474.2 374.8 476.2 375.5 480 377C483.8 378.5 488.3 381.2 492.5 383.2C496.7 385.3 500.8 387.4 505 389.5C509.2 391.6 514.4 393.7 517.5 395.8C520.6 397.8 522.9 399.9 523.8 402C524.6 404.1 523.8 407.2 522.5 408.2C521.2 409.3 518.8 409.1 516.2 408.2C513.8 407.4 511 404.9 507.5 403.2C504 401.6 499.2 399.7 495 398.2C490.8 396.8 486.7 395.1 482.5 394.5C478.3 393.9 474.6 393.7 470 394.5C465.4 395.3 460 398 455 399.5C450 401 445 402.3 440 403.2C435 404.2 430 404.8 425 405C420 405.2 415 405 410 404.5C405 404 399.6 402.2 395 402C390.4 401.8 386.7 402.8 382.5 403.2C378.3 403.7 374.2 404.4 370 404.5C365.8 404.6 361.2 404.5 357.5 404C353.8 403.5 349.8 402.7 347.5 401.5C345.2 400.3 343.3 399 343.8 397Z" fill="#b4f0fa"/>
<path id="s24" d="M623.8 414.5C623.5 411.6 624.8 408.2 626.2 405.8C627.7 403.2 630 401 632.5 399.5C635 398 638.1 397 641.2 397C644.4 397 648.1 398.2 651.2 399.5C654.4 400.8 657.9 402.6 660 404.5C662.1 406.4 663.5 408.5 663.8 410.8C664 413 662.7 416 661.2 418.2C659.8 420.5 657.7 422.8 655 424.5C652.3 426.2 648.3 427.8 645 428.2C641.7 428.8 637.9 428.3 635 427.5C632.1 426.7 629.4 425.4 627.5 423.2C625.6 421.1 624 417.4 623.8 414.5Z" fill="#b4f0fa"/>
<use href="#s24" x="-581"/>
<path id="s25" d="M205 422C204.6 420.7 206.7 417.5 208.8 415.8C210.8 414 214.4 412.3 217.5 411.5C220.6 410.7 224.4 410.5 227.5 410.8C230.6 411 234.7 412.1 236.2 413.2C237.8 414.4 238 416.2 237 417.5C236 418.8 232.8 419.9 230 420.8C227.2 421.6 223.1 422 220 422.5C216.9 423 213.8 423.8 211.2 423.8C208.8 423.7 205.4 423.3 205 422Z" fill="#b4f0fa"/>
</g>
<g clip-path="url(#fc)" shape-rendering="crispEdges" fill="none">
<path d="M105.5 110V509" stroke="#aaaaaa" stroke-width="1" stroke-dasharray="2 4.5"/>
<path d="M202.5 110V509" stroke="#aaaaaa" stroke-width="1" stroke-dasharray="2 4.5"/>
<path d="M298.5 110V509" stroke="#aaaaaa" stroke-width="1" stroke-dasharray="2 4.5"/>
<path d="M492.5 110V509" stroke="#aaaaaa" stroke-width="1" stroke-dasharray="2 4.5"/>
<path d="M589.5 110V509" stroke="#aaaaaa" stroke-width="1" stroke-dasharray="2 4.5"/>
<path d="M686.5 110V509" stroke="#aaaaaa" stroke-width="1" stroke-dasharray="2 4.5"/>
<path d="M72 132.5H727" stroke="#aaaaaa" stroke-width="1" stroke-dasharray="2 4.5"/>
<path d="M72 176.5H727" stroke="#aaaaaa" stroke-width="1" stroke-dasharray="2 4.5"/>
<path d="M72 221.5H727" stroke="#aaaaaa" stroke-width="1" stroke-dasharray="2 4.5"/>
<path d="M72 265.5H727" stroke="#aaaaaa" stroke-width="1" stroke-dasharray="2 4.5"/>
<path d="M72 354.5H727" stroke="#aaaaaa" stroke-width="1" stroke-dasharray="2 4.5"/>
<path d="M72 398.5H727" stroke="#aaaaaa" stroke-width="1" stroke-dasharray="2 4.5"/>
<path d="M72 443.5H727" stroke="#aaaaaa" stroke-width="1" stroke-dasharray="2 4.5"/>
<path d="M72 487.5H727" stroke="#aaaaaa" stroke-width="1" stroke-dasharray="2 4.5"/>
<path d="M395.5 110V509" stroke="#000" stroke-width="1" stroke-dasharray="5 1.5"/>
<path d="M72 309.5H727" stroke="#000" stroke-width="1" stroke-dasharray="5 1.5"/>
</g>
<g clip-path="url(#fc)" fill="none" stroke="#000" stroke-width="1" stroke-linejoin="round" shape-rendering="crispEdges">
<g id="co"><path d="M95.8 230.1L102.1 231.7L105.3 230.1L110.1 227.9L118.2 227.5L121.4 226.8L123.1 227.5L122.2 230.8L121.4 234.1L123.1 235.2L125.5 236.8L129.5 237.7L134.4 241.9L137.6 240.8L137.6 237.5L142.4 237L145.6 239.2L152.1 240.8L155.3 239.7L157.8 240.3L160.5 240.1L157.9 243L159.4 247.4L161.8 254.1L162.6 257.4L165 261.8L165.5 267.4L167.4 269.6L169 275.1L171.5 277.4L174.7 281.3L175.2 283.8L176.3 286.2L181.2 284.7L187.6 283.3L187.6 286.2L184.4 294L182.8 299.5L179.5 304L175.5 309.5L173.1 312.8L170.7 315L169 319.5L168.2 323.9L169 328.3L170.3 332.8L170.7 340.5L169.9 345L165 349.4L161.8 353.8L162.3 361.6L158.6 366L158.2 369.4L156.9 373.8L154.5 378.2L150.5 382.7L146.5 384.9L140.8 385.3L137.6 386.6L135.2 385.3L134.4 381.5L132.7 374.9L130.3 369.4L128.7 360.5L127.1 353.8L124.7 347.2L124.7 342.8L127.1 337.2L127.1 330.6L125.5 322.8L124.7 320.6L120.6 315L119.8 310.6L120.6 307.3L121 302.8L119.8 300.6L116.6 299.7L114.2 297.3L112.6 295.5L109.3 295.5L105.3 297.3L102.1 298.9L98.8 298L93.2 299.7L90.8 298.4L87.5 294.6L85.1 292.9L83.5 288.4L81.1 285.1L78.2 281.8L77.1 276.9L78.7 274L79 267.4L77.9 262.9L79.5 257.4L81.9 251.9L84.3 248.1L87.5 245.7L89.5 243L90 238.6L92.4 235.7L94.8 233.5L95.8 230.1"/>
<path d="M184.9 336.1L186.8 343.9L185.2 349.4L182.8 358.3L181.2 364.9L177.9 366L175.5 360.5L175.2 357.2L177.1 351.6L176.3 347.2L178.7 344.5L182 341.6L184.9 336.1"/>
<path d="M156.9 310.6L160.2 309.5L160.2 315L156.9 315L156.9 310.6"/>
<path d="M152.6 317.3L153.4 322.8L155 328.3"/>
<path d="M160.2 330.6L161 336.1L161.8 341.2"/>
<path d="M127.1 279.6L128.7 280.7L128.4 281.8L127.1 279.6"/>
<path d="M96.3 229.7L94.8 227.5L90.8 227.5L90 223.7L91.1 218.6L90.5 214.2L92.4 212.6L97.2 213.1L102.4 213.3L103.4 210.9L103.4 207.5L101.3 204.7L98 203.5L97.7 202L100.5 201.3L102.9 201.5L102.6 199.3L105.6 199.8L107.7 198.2L109.3 196.4L111.8 194.2L113.4 191.6L116.6 190.9L119 189.8L119.2 186.5L118.5 183.1L122.2 181.6L122.2 185.4L121.4 187.6L123.1 189.8L126.3 188.9L128.4 190L134.4 188L136.8 188.9L139.2 187.6L139.2 183.1L141.6 181.6L144.5 182.7L144.7 180.3L143.2 178.3L145.6 177.6L150.5 177.6L153.7 176.5L151.3 175.2L145.6 176.1L142.3 176.7L140 174.3L139.7 171L140.8 168.7L145.6 165.4L146.5 163.9L140.8 163.9L139.2 167.6L133.5 171L133.1 174.3L135.2 176.5L132.7 179.4L131.9 183.1L130.8 185.1L128.4 186.5L126.3 186.7L126 184.3L123.5 179.8L122.2 178L118.2 180.7L114.7 179.6L113.4 176.5L113.4 172.1L116.6 169.8L121.4 167.6L124.7 164.3L126.3 161L129.5 157.7L133.5 155.4L137.6 154.3L142.4 152.8L146.9 152.1L150.5 152.6L155.3 153.7L153.7 155L158.6 155.9L163.4 156.5L169.9 159.2L171.5 162.1L167.4 162.8L161.8 162.1L158.6 161.6L161 164.3L161.8 167L165 167.6L166.6 165.9L169.9 166.3L170.7 163.6L173.1 162.3L176.3 162.8L176.3 159.9L175.5 157.7L179.5 158.8L182.8 159.4L190.8 157L194.1 157.7L198.9 157L202.9 154.8L208.6 155.9L213.4 157.7L216.7 157.7L213.4 154.3L213.4 151L216.7 147.7L221.5 147.7L223.1 151L222.3 154.3L222.3 157.7L223.9 161L221.5 162.8L224.7 158.8L226.3 154.3L225.5 149.9L229.6 149.9L232.8 149.5L236 146.6L244.9 145.5L245.7 143.2L255.4 141L265.1 139.9L273.1 137.3L278 139.3L287.7 141L286.1 144.4L282.8 145.5L287.7 146.1L297.4 147.7L305.4 146.1L310.3 148.8L314.3 152.1L318.3 151L323.2 151L330.4 148.8L332.9 148.1L340.9 149.2L347.4 151L350.6 152.3L357.1 152.1L363.5 154.3L365.1 155.4L373.2 155.4L380.5 154.8L380.5 157L386.1 154.8L392.6 155.9L395.8 157L403.9 159.9L410.3 162.1L411.9 163.2L407.9 166.5L403.9 165.9L399 164.3L396.6 166.5L392.6 166.5L391 169.8L394.7 171L387.7 172.5L382.9 175.4L379.7 176.5L373.2 176.5L369.2 178.7L367.6 182L368.4 185.4L366.8 187.6L363.5 192L361.1 194.2L358.2 196.4L356.6 192L357.1 185.4L360.3 180.9L365.1 176.5L368.4 173.2L370 171L363.5 172.5L361.9 173.2L357.9 173.2L355.5 177.6L350.6 178.7L345.8 177.6L336.1 178L331.2 182L327.2 187.6L327.2 189.8L331.2 190.9L333.3 193.1L332.1 198.7L331.7 203.1L328.8 206.4L324.8 210.9L319.9 214.6L316.7 215.3L315.1 216.4L314.3 219.7L311.1 221.9L314 227.5L314 230.8L311.1 232.6L309.1 233L309.5 228.6L309.8 225.9L307 225.7L307 221.9L305.9 220.8L302.2 219.7L300.9 223L301.4 219.7L300.6 218.8L297.4 222.6L295.3 223.5L297 226.4L300.3 225.7L303 226.8L302.7 227.9L299.8 229.7L297.8 231.9L299.8 235.2L301.9 239L302.2 241.2L301.4 245.2L301.4 247.4L299 250.8L297.4 254.1L294.9 256.7L292.5 258.5L289.3 260.1L286.1 261.4L283.3 262.3L282.8 264.5L282 261.8L279.6 261.6L277.5 264.1L276.1 267.4L277.2 270.7L280.4 274L281.7 280.7L281.2 284L278 286.2L277.2 288.4L274.8 290.2L274.8 287.3L273.1 286.2L271.5 284L270.4 282.5L268.3 281.3L267.5 279.6L266.7 281.8L265.9 285.1L265.6 288.9L267.2 291.8L268.3 294.4L270.7 296.2L272.3 299.5L272.3 304L273.5 306.4L272.3 306.6L268.8 303.3L267.3 297.3L266.2 295.1L263.9 291.8L264.3 287.3L264.6 282.9L263.5 278.5L262.7 272.9L260.2 272.3L257.8 274L257.5 269.6L256.2 265.2L253.8 261.8L253.5 259.6L251.4 260.7L248.9 261.2L245.7 261.8L245.4 264.1L242.5 266.3L238.1 272.9L234.9 275.1L234.4 279.6L234.1 284L234.1 286.7L232.8 288.9L231.5 289.8L230.4 291.5L228.8 289.5L227.6 284.5L226 280.7L224.7 276.2L223.1 270.7L222.8 267.4L222.6 262.9L222.3 262.3L219.1 263.4L216.7 260.1L218.3 259.2L215.9 257.4L213.9 254.7L212.6 253.2L209.4 253.6L204.6 253.6L200.5 253.2L197.8 252.8L197 249.6L194.1 250.3L191.6 250.3L188.4 247.9L186.8 245.2L186 242.6L184.1 242.3L182.8 243.4L183.6 246.3L186 250.3L186.3 252.3L187.6 252.1L188.4 254.1L188.4 255.6L190.8 255.9L193.3 255.6L195.7 251.9L196.5 251.2L196.2 254.5L197.3 256.7L200 257.2L201.8 259.6L200.2 264.1L198.6 267.4L197.3 267.8L196.5 269.6L194.1 270.7L189.5 272.9L184.4 277.4L177.9 280.7L175.5 281.3L174.7 279.6L174.2 276.2L174.4 272.9L172.6 269.6L170.7 266.3L168.6 261.8L167.4 257.4L165.3 254.1L164.2 251.4L161.8 247.4L161.5 244.1L160.7 247.9L158.6 245.2L157.9 243"/>
<path d="M160.5 240.1L161 239.7L161.8 236.3L163.4 231.9L163.4 228.1L161 228.1L157.8 229.5L154.5 228.6L152.1 228.1L149.7 227.5L148.1 224.2L148.6 221.9L147.6 220.8L148.9 219.7L152.1 219.7L152.1 218.2L155.3 218.2L158.6 216.4L161.8 216.4L164.2 218L167.4 218.6L169.9 218.6L172.3 217.5L172.3 215.3L169.9 213.1L168.2 211.3L165.8 210.4L165 209.1L167.4 207.1L168.2 204.9L165.8 205.3L162.6 206.4L161.8 208.2L164.2 209.1L162.3 210L159.4 210.9L157.8 208.6L159.4 207.5L156.6 206.4L154.5 207.5L152.9 209.1L151.8 210.9L150.5 213.5L150.5 216.4L151.3 217.5L152.1 218.2"/>
<path d="M147.6 220.8L147.3 219.1L144 219.1L143.2 220.8L142.1 219.7L141.9 221.9L143.2 224.2L144 225.3L142.4 226.4L142.4 228.6L141.3 228.6L140 226.4L139.5 224.6L138.4 221.9L136.8 219.7L136.8 217.1L135.2 215.3L131.9 213.1L129.5 210.4L128.4 209.1L127.4 208.2L125.5 208.6L125.2 211.3L127.1 212.9L128.7 215.7L131.1 216.6L131.1 217.7L134.4 219.3L135.2 220.6L132.7 219.7L132.1 221.5L133.1 223L131.9 224.4L130.6 225.3L131.1 223L130.6 220.8L128.7 219.3L126.3 218L123.9 215.5L122.2 214.2L121.4 212L119.5 211.1L117.4 212.4L115 214L112.6 213.3L110.3 214.2L110.5 216.8L106.6 219.1L104.8 221.9L105.6 223.7L104.2 225.9L102.1 227.9L98 228.1L96.3 229.7"/>
<path d="M125.5 225.3L130.3 224.8L129.5 228.1L125.5 226.2L125.5 225.3"/>
<path d="M118.7 218.6L121 218.6L120.6 222.6L119 223L118.7 218.6"/>
<path d="M143.2 231.3L147.7 231.5"/>
<path d="M157.4 231.9L161 230.6L159.4 232.6L157.4 231.9"/>
<path d="M181.2 209.7L184.4 206.4L187.6 205.8L190.8 207.5L190.8 209.7L187.6 210.9L186.5 214.2L190 215.3L191.6 219.7L190.8 221.9L192.5 225.3L192.1 227.5L189.2 228.1L186 226.8L184.4 224.2L185.2 220.2L183.6 216.8L182 214.2L181.2 211.3L181.2 209.7"/>
<path d="M199.7 208.6L203.7 206.4L204.6 210.9L200.5 212.6L199.7 208.6"/>
<path d="M273.1 195.3L276.4 193.1L280.4 189.8L282.5 186L282 187.6L278.8 192.5L274.8 195.3L273.1 195.3"/>
<path d="M96.1 198.7L99.7 197.8L103.7 197.1L107.2 196L107.9 192.9L105.8 192L105.3 190.7L103.2 187.6L102.1 185.4L100.8 184.3L102.1 181.8L98.8 181.6L100.1 179.6L97.2 179.6L95.9 182L96.3 184.7L97.6 186.5L97.2 188L99.7 188L100.5 190.2L100.1 191.3L98 191.6L98 193.1L96.9 194.7L99.7 195.3L98.4 196.2L96.1 198.7"/>
<path d="M95.1 193.8L95.1 190.9L96.1 188.5L94 187.1L91.6 188.7L89.2 189.4L90 191.6L88.7 194.2L90 195.3L92.4 194.7L95.1 193.8"/>
<path d="M647.1 164.3L650.8 162.3L657.3 162.8L662.4 162.8L664.2 165.4L662.1 167L656.4 168.7L651.6 168.1L649.8 167.6L650.8 165.9L647.1 164.3"/>
<path d="M123.1 133.3L129.5 138.8L132.7 139.7L139.2 136.6L135.2 133.3L148.9 132.2L137.6 131.1L123.1 132.8L123.1 133.3"/>
<path d="M189.2 151L192.5 152.6L198.1 153L195.7 148.8L195.7 145.5L202.1 142.1L211.8 139.5L216.7 138.8L215 141L205.4 143.2L198.9 145.5L194.9 148.8L189.2 151"/>
<path d="M177.9 131.1L186 132.2L194.1 131.1L202.1 131.7L207 129.9L197.3 128.8L186 129.9L177.9 131.1"/>
<path d="M257 133.3L266.7 135.5L274.8 135.9L271.5 132.6L263.5 129.9L257 133.3"/>
<path d="M326.4 142.1L331.2 143.7L337.7 142.8L347.4 143.2L340.9 141L331.2 141L326.4 142.1"/>
<path d="M331.2 146.6L336.1 147.2L334.5 145.5L331.2 146.6"/>
<path d="M393.4 152.1L399 151L395.8 152.6L393.4 152.1"/>
<path d="M315.6 240.1L317.5 239.7L318.3 235.7L316.7 234.1L319.1 233.5L323.2 233L326.1 233L327.2 232.6L329.6 231.9L331.2 231.5L332.5 229.7L332.9 225.3L334.2 221.9L333.3 218L331.7 218.6L331.2 221.3L330.4 224.2L328.8 226.8L326.4 226.8L326.1 227.9L324.8 230.1L324 230.6L319.9 230.8L317.2 233L316.4 234.6L314.8 235.7L315.1 237.5L315.6 240.1"/>
<path d="M331.6 217.5L332.9 215.3L332.1 213.7L334 209.1L336.1 211.3L339.8 212.4L340.1 213.7L337.4 214.6L336.4 216.4L333.7 215.3L331.6 217.5"/>
<path d="M334.5 207.5L336.6 205.3L335.8 199.8L337.4 198.7L336.6 193.1L335.8 189.4L334.8 190.9L334.2 195.3L334.5 200.9L334.5 204.2L334.5 207.5"/>
<path d="M299.3 258.5L300.6 253.6L301.9 254.5L300.6 259.6L299.3 258.5"/>
<path d="M234.4 288L236.8 291.1L237.3 294L235.2 296.2L234.1 294L234.4 288"/>
<path d="M281.2 265.6L284.1 265.2L283.6 267.8L281.2 268.7L281.2 265.6"/>
<path d="M299.8 268.7L302.5 268.7L302.2 272.9L301.4 275.1L302.2 278.5L305.4 279.6L305.4 281.6L303.8 278.9L301.4 279.1L299.9 277.4L299 274L299.8 268.7"/>
<path d="M302.2 294L304.6 290.7L307.8 287.8L309.5 291.8L309 295.5L307.8 296.6L307 295.1L305.4 294.4L304.6 292.4L302.2 294"/>
<path d="M294.9 290.7L298.2 285.1"/>
<path d="M302.2 283.3L303.8 284L303.8 287.3L302.2 286.2L302.2 283.3"/>
<path d="M306.2 281.8L307.8 282.9L307.4 286.2L306.2 285.1L306.2 281.8"/>
<path d="M281.2 306.2L282.8 305.5L284.9 304L287.7 302.2L290.1 298.9L292.5 294.4L294.6 294.6L297.4 298L295.7 300L295.7 304L297.4 307.3L295.4 308.4L294.9 311.7L293 315L292.5 317.9L290.1 318.4L287.7 316.6L285.2 316.6L283.2 315L282.8 312.4L281.2 308.8L281.2 306.2"/>
<path d="M259.1 297.1L262.7 298L264.3 301.1L267.2 304L269.1 305.7L272 308.4L272.8 311.7L274 313.9L276.4 316.2L276.1 322.4L274 322.1L270.4 318.4L268.3 315L267.2 311.3L265.1 307.7L264.3 305.5L261.8 302.2L259.1 297.1"/>
<path d="M275.1 324.6L277.2 322.8L280.4 324.1L283.6 323.9L284.4 324.4L287.3 325L290.1 326.8L289.8 328.6L285.2 327.9L280.4 326.8L277.2 325.7L275.1 324.6"/>
<path d="M298.2 321.7L299.5 316.2L297.4 311.7L299 307.7L300.6 306.8L303.8 307.5L307 306L305.4 308.6L301.4 308.4L299.8 311.5L301.7 311.7L304.3 311.3L302.2 313.3L301.4 315L303 317.9L303.8 320.1L302.2 320.1L300.6 317.3L299.8 319.5L299.6 321.9L298.2 321.7"/>
<path d="M316.7 311.3L319.1 310.4L321.6 311.3L321.9 315L324 316.8L327.2 313.3L329.6 313.9L332.9 315.3L336.9 317.3L340.6 320.6L343.4 323.2L343.8 326.1L345 329.5L348.2 332.8L345.8 332.3L342.5 330.6L340.9 327.2L338.5 326.6L336.1 329.5L332.9 329.9L330.4 327.2L328 327.9L329.3 325L328 321.7L324.8 319.7L320.8 317.9L319.6 318.6L318.3 315.9L321.2 314.6L318.7 314.4L316.7 311.3"/>
<path d="M304.6 332.3L307 329.9L310.3 328.1L308.7 330.1L305.4 332.3L304.6 332.3"/>
<path d="M292.5 328.3L294.9 327.9L297.4 328.6L295.7 329.5L292.5 329L292.5 328.3"/>
<path d="M298.6 328.3L303.8 327.9L303 329.2L299 329L298.6 328.3"/>
<path d="M311.1 307.3L311.9 305.1L313 307.3L311.9 311.3L311.1 307.3"/>
<path d="M311.9 316.2L315.9 316.2L315.1 317.7L311.9 317.3L311.9 316.2"/>
<path d="M345 321.7L348.2 321.2L350.6 319L350.6 321L348.2 323.2L345 321.7"/>
<path d="M348.7 315.3L351.4 317.9L352.2 319.5"/>
<path d="M355 321.7L357.1 324.4"/>
<path d="M358.2 325L362.7 327.9"/>
<path d="M363.2 330.1L365.9 332.3"/>
<path d="M364.7 328.3L365.6 330.6"/>
<path d="M370 354.3L372.4 356.7L374.8 358.9"/>
<path d="M374.3 342.8L375.3 345L376.9 348.7"/>
<path d="M391.4 348.3L393.4 349L392.6 349.8L391.4 348.3"/>
<path d="M394.2 345.6L395.8 346.3"/>
<path d="M407.4 339.4L409.5 340.3"/>
<path d="M288.5 358.3L289.3 357.8L293.8 355.2L297.4 353.8L301.4 351.6L302.7 347.6L304.6 348.1L305.4 345.6L308.7 341L311.9 342.8L314.3 342.5L315.1 338.3L316.7 336.5L319.1 335L323.2 336.5L326.1 336.5L324.8 339.4L324 342.3L326.4 344.5L330.1 348.3L332.5 348.3L333.7 342.8L334 337.9L335.3 333.4L336.9 337.9L337.4 341.4L339.8 342.8L340.9 348.3L341.4 351.6L345 354.3L346.6 358.9L348.7 361.6L351.9 365.6L353 370.5L352.7 376L351.4 381.5L349.5 384.9L348.2 388.9L347.4 392.2L344.2 393.5L341.4 396L339.3 394.4L336.9 395.5L332.9 394.2L330.8 391.5L330.4 388.9L328 388.2L327.9 382L326.4 384.9L324.8 387.1L324 386.2L321.9 382.7L318.3 380.4L313.5 379.5L308.7 381.1L305.4 382.7L304.6 384.6L299 384.9L295.7 387.1L292.5 386.6L290.9 385.5L292 380.4L290.9 376L289.3 370.5L288.2 367.1L289 361.6L288.5 358.3"/>
<path d="M338.8 399.7L341.7 400.6L344.6 400.2L344.6 403L343 405.5L340.9 405.9L339.6 403.3L338.8 399.7"/>
<path d="M384 385.8L386.6 388.2L388.5 390.4L389.3 392.8L393.1 393.1L392.4 396.4L391 397.1L389.7 400.4L388.1 401.7L387.4 400.8L388.1 398.2L386.1 397.1L387.2 393.7L387.1 391.1L384.5 387.1L384 385.8"/>
<path d="M384 399.3L386.4 401.5L384.5 404.8L383.7 406.6L381.6 408.1L380.8 411.2L378 412.8L375.6 411.9L374 411L376.9 407L380.5 404.4L382.9 400.4L384 399.3"/>
<path d="M415.2 164.3L421.6 162.1L424.9 161.4L422.4 159.9L418.4 157.7L423.2 155.4L428.1 153.2L433.7 151.4L441 152.6L449.1 153.9L458.7 155.2L465.2 156.5L470 155.4L476.5 154.3L479.7 153.7L484.6 155.4L491 154.8L497.5 156.5L502.3 158.3L508.8 159L512 157.7L516.8 157.7L521.7 159.2L528.1 159.2L531.4 158.1L533 155.4L533 150.3L537 153.2L537.8 155.4L541.1 157.7L544.3 157L547.5 159.9L548.3 155.4L554 155.4L554.8 158.8L553.2 162.1L548.3 162.8L545.9 165.4L544.3 167.6L540.2 168.7L537 171.6L534.6 175.4L533.8 179.2L537 183.1L541.1 183.1L545.9 185.4L549.1 186.9L553.5 187.6L554 192L556.4 195.8L558.8 195.3L558.8 189.8L562 185.4L562 180.9L560.4 177.6L561.2 174.3L560.4 171.2L566.9 171.4L571.7 174.3L573.3 178.7L576.6 180.3L579.8 179.2L581.4 176.5L582.2 175.8L586.2 182L587.9 185.4L592.7 188.7L594.3 190.9L595.9 194.2L594.3 195.6L589.5 198.2L583 198.2L579 198.2L574.9 202L571.7 205.8L574.9 203.5L579.8 200.9L582.2 200.9L581.4 203.1L582.2 205.3L581.4 206.4L583 207.5L587 208.2L587.9 209.3L583.8 210.6L580.6 212.9L579.8 210.9L581.4 209.1L578.2 209.7L574.9 212L572.5 213.5L572 215.7L573.3 217.1L570.9 217.7L566.9 219.5L566.6 221.9L564.8 224.2L563.6 227.5L564 230.8L562 233L558.8 235.2L555.6 238.6L554.8 241.9L556.7 248.5L556.9 253L555.3 253.6L553.2 248.5L552.7 245.2L550.7 243L548.3 243.4L544.3 242.3L541.9 243L542.2 244.8L539.4 244.8L534.9 243.7L533 244.8L529.8 247.9L529.3 253L528.5 259.6L529.8 264.1L531.4 267.4L533.8 269.2L537.8 268.3L539.8 266.3L540.2 262.9L544.3 261.8L545.9 262.1L545.1 266.3L544.3 269.2L543.5 274L545.9 274.5L549.9 274.5L551.9 276.2L551.2 281.8L551.4 285.1L553.2 288.9L555.6 290L557.7 288.4L560.4 288.9L562 291.1L563.6 289.5L564.5 286L566.9 284.7L570.1 282.9L570.9 285.1L573.3 283.8L575.8 286L579.8 286L582.2 286.9L586.2 285.8L587.9 288.4L589.5 290.9L592.7 294.4L596.7 296.4L600 297.3L603.2 300L604.8 305.1L605.6 308.4L608 310.6L610.5 311.1L614.5 313.9L618.5 315.7L621.7 315.7L625 318.4L629.3 321.2L630.1 326.1L629.5 330.6L626.6 335L624.2 338.3L623.4 342.8L623 349.4L621.7 353.8L620.1 358.3L616.1 360.5L613.7 362L610.5 364.3L608 367.1L607.7 372.7L605.1 377.1L602.4 380.9L600 384.9L597.5 386.6L594.3 386L592.2 384.9L593.8 389.3L593.3 393.7L589.5 395.7L586.2 396L585.9 399.9L581.4 400.4L583.3 403.7L581.4 405.5L580.6 409.3L577.4 411.5L579.8 414.8L577.4 419.2L574.9 422.6L575.9 425.7L572 426.5L571.7 428.8L568.5 427L566.9 425.9L564.5 420.3L566.1 415.9L564.5 413L566.9 409.3L568.5 403.7L567.2 400.4L567.7 396L568.2 391.5L569.3 388.2L570.9 382.7L570.9 376L572.5 367.1L572.8 360.5L573 353.8L572.8 350.1L570.9 347.8L565.3 343.9L563.2 340.1L561.7 336.1L559.6 330.6L557.5 325L555.3 322.8L555.1 319.5L556.7 317L557.2 315L555.6 311.7L557.2 308.4L558.8 306.2L559.1 304L561.2 300.6L561.4 295.1L560.6 293.3L559.6 290.7L558 289.8L556.4 291.3L557.2 293.3L554.8 292.2L552.4 291.1L551.2 289.5L549.1 287.3L547.8 285.1L545.1 280.7L544.3 280.2L541.1 279.1L537.8 277.4L534.6 273.8L531.4 274.7L528.1 273.6L524.9 271.8L521.7 269.6L518.5 267.8L516 265.2L516.4 261.8L515.2 258.5L512 254.1L509.6 251.9L508.8 248.5L505.5 245.2L503.9 240.8L501.2 239.2L501.2 243L503.9 247.4L505.5 250.8L507.2 255.2L508.8 258.5L505.5 254.5L505.1 251.9L502.3 249.2L501.8 246.3L499.4 242.6L497.5 237.5L495.4 234.6L491.8 233L489.7 228.6L488.6 225.7L486.5 221.9L485.7 219.9L486.2 216.4L486.2 212L486.2 206.9L485.2 202.4L487.8 202.4L487.8 200.9L484.6 198.7L480.5 196.4L479.7 193.1L476.5 188.7L474.1 186.5L471.7 183.1L468.4 179.8L465.2 179.2L461.2 176.9L457.1 176.5L453.9 176.1L450.7 174.7L447.4 174.7L445 176.9L441.8 178L441.8 175.4L444.2 173.8L441 174.9L438.6 177.6L437.4 179.8L433.7 182.5L430.5 184.7L426.5 186.9L423.2 188L420.3 188.7L424 185.8L428.1 183.6L431.3 180.9L432.4 179.2L429.7 179.6L425.2 179.4L424.9 176.9L421.6 176.7L419.2 174.3L418.4 172.1L420.5 169.8L426.5 168.7L426.5 166.5L423.2 166.5L418.4 166.3L415.2 164.3"/>
<path d="M575.8 426.1L576.1 428.1L580.9 431L578.2 432.1L573.3 431.4L570.1 429.2L572.5 428.1L575.8 426.1"/>
<path d="M587.9 423.7L592.7 423.7L591.1 425.4L587.9 423.7"/>
<path d="M625 429.2L628.2 430.8"/>
<path d="M216.7 418.1L218.8 418.8L217.5 419.7L216.7 418.1"/>
<path d="M538.6 310.2L539.8 311.5L539.1 311.7"/>
<path d="M434.5 264.7L436.3 266.1L435 267.4L434.5 264.7"/>
<path d="M431 261.8L431.8 262.3"/>
<path d="M428.6 260.5L429.2 260.7"/>
<path d="M418.4 189.8L416 191.1"/>
<path d="M413.6 192L411.9 192.7"/>
<path d="M407.1 193.8L403.9 194.2"/>
<path d="M400.6 194.7L398.2 195.1"/>
<path d="M384.5 192.5L386.1 192.7"/>
<path d="M549.1 261.2L552.4 258.5L556.4 258.3L562 261.8L565.3 263.6L566.6 264.7L561.2 265.4L560.9 264.1L558.8 261.8L554 260.1L550.7 261.2L549.1 261.2"/>
<path d="M566.2 268.7L568.8 265.4L573.3 265.6L575.9 268.3L573.3 269.2L570.9 270.3L566.2 268.7"/>
<path d="M577.8 268.7L580.3 268.9L579 269.8L577.8 268.7"/>
<path d="M559.9 268.7L563.2 269.4L561.2 270L559.9 268.7"/>
<path d="M587 285.8L587.9 287.1"/>
<path d="M590.6 204L595.9 205.3L600.8 206L601.3 204.2L600 202L596.7 199.8L596.7 195.3L593.8 197.6L591.9 202L590.6 204"/>
<path d="M582.5 199.1L586.2 200.2"/>
<path d="M583 205.8L586.2 206.6"/>
<path d="M537.8 205.8L542.7 203.1L547.5 203.5L549.4 205.8L546.7 206.4L542.7 205.8L537.8 205.8"/>
<path d="M544.6 216.4L547 215.3L547 210.9L549.1 208L546.7 208L544.8 210.9L544.6 216.4"/>
<path d="M549.9 207.5L554 208L557.2 210.2L554.4 213.7L553.2 214.2L551.5 212L551.5 209.1L549.9 207.5"/>
<path d="M551.9 216.8L555.6 216.8L558.8 214.6L556.4 215.1L551.9 216.8"/>
<path d="M557.7 213.5L562 213.5L563.2 212L560.4 212L557.7 213.5"/>
<path d="M526.5 197.6L529.8 197.6L528.9 193.1L527.3 190.2L526.5 194.2L526.5 197.6"/>
<path d="M497.5 174.3L503.9 173.6L509.6 170.5L505.5 171L499.9 172.5L497.5 174.3"/>
<path d="M487.8 165L492.6 165.4L495.9 162.1L491 161L487.8 163.2L487.8 165"/>
<path d="M506.4 179.4L510.4 178"/>
<path d="M581.4 172.7L576.6 171.4L570.9 168.7L566.1 166.5L560.4 166.5L561.2 164.3L566.9 164.3L568.5 159.9L562 155.4L557.2 154.3L549.1 154.3L542.7 152.1L541.9 148.8L549.1 146.6L557.2 146.1L562 148.1L566.9 150.6L573.3 152.8L576.6 155.4L579 158.8L586.2 161L587 162.1L583 165.4L578.2 164.3L581.4 168.7L582.2 171L581.4 172.7"/>
<path d="M497.5 154.3L505.5 157.4L515.2 157.2L521.7 156.5L522.5 154.3L516.8 148.8L508.8 147.7L502.3 148.1L495.9 151L497.5 154.3"/>
<path d="M483.8 149.9L487.8 151.7L491.8 151L494.2 148.8L498.3 146.6L495.9 144.8L486.2 144.8L484.6 147.7L483.8 149.9"/>
<path d="M563.6 135.9L573.3 133.3L581.4 129.9L586.2 126.6L573.3 125.5L557.2 125.5L541.1 127.7L537.8 129.9L547.5 132.2L544.3 135.5L547.5 138.8L557.2 140.4L560.4 138.8L563.6 135.9"/>
<path d="M557.2 142.1L555.6 144.4L547.5 144.4L537.8 143.9L536.2 141L541.1 139.9L549.1 141.5L557.2 142.1"/>
<path d="M497.5 142.8L505.5 144.4L515.2 143.2L515.2 141L508.8 140.4L499.1 139.9L497.5 142.8"/>
<path d="M531.4 132.2L537.8 134.4L544.3 133.3L545.9 131.1L537.8 129.9L531.4 132.2"/>
<path d="M524.9 149.9L531.4 149.9L533 146.6L528.1 145.5L523.3 146.6L524.9 149.9"/>
<path d="M524.9 142.1L531.4 143.2L533 139.9L528.1 138.8L521.7 139.9L524.9 142.1"/>
<path d="M529.8 156.5L532.2 157L531.4 154.8L528.1 154.8L529.8 156.5"/>
<path d="M516.8 137.7L524.9 137L526.5 134.8L518.5 134.4L516.8 137.7"/>
<path d="M492.6 141L499.1 139.9L497.5 137.7L491 138.8L492.6 141"/>
<path d="M547.5 163.6L550.7 165L555.6 167.6L557.2 168.7L552.4 170.5L547.5 168.5L545.9 166.5L547.5 163.6"/>
<path d="M557.2 171.4L558 172.7L556.4 172.5"/>
<path d="M557.2 184.7L558.8 185.4L558 185.8"/>
<path d="M568.5 136.2L576.6 132.2L586.2 128.4L605.6 127.1L621.7 124.4L637.9 124.4L650.8 126.6L657.3 128.8L666.9 128.8L658.9 132.2L655.6 136.6L656.4 141L652.4 144.4L650.8 148.8L650.8 153.2L645.1 153.2L644.3 156.5L637.9 158.3L633 161L628.2 163.4L621.7 165.4L618.5 171L616.6 176.5L612.9 176.1L608 174.3L604.8 169.8L602.4 165.4L600 161L600 156.5L604 154.3L598.3 153.2L598.3 148.8L594.3 144.4L589.5 141L579.8 141L573.3 139.9L570.1 137.7L568.5 136.2"/>
<path d="M395.8 482.9L397.8 482.3L399.8 483.3L401.9 483.1L403.9 482.8L405.9 482.6L407.9 483.3L409.9 483.4L411.9 482.7L414 482.9L416 483L418 483.3L420 482.1L422 482.8L424 482.5L426.1 483.1L428.1 481.7L431.3 480.4L433.5 480L435.6 480.3L437.8 478.9L439.9 479.6L442.1 479.3L444.2 479.5L446.2 478.1L448.3 478.3L450.3 478.1L452.3 477.6L454.3 476.6L456.3 476.5L458.3 476.6L460.4 475.6L462.4 475.4L464.4 475.1L466.4 475.8L468.4 474.6L470.4 474.7L472.5 474.3L474.5 475.2L476.5 473.7L478.5 474.1L480.5 473.7L482.5 474.7L484.6 473.4L486.6 473.7L488.6 473.6L490.6 474.2L492.6 473.2L494.7 473.5L496.7 473.9L498.7 474.3L500.7 473.9L502.7 473.8L504.7 474.7L506.8 474.6L508.8 474.6L510.8 473.6L512.8 474.4L514.8 473.3L516.8 473.1L518.9 471.9L520.9 472.8L522.9 471.6L524.9 471.4L526.9 470.7L528.9 471.9L531 471.1L533 471.1L535 470.6L537 471.5L539 471L541.1 470.6L543.1 470.7L545.1 471.3L547.1 471.3L549.1 470.6L551.1 471.2L553.2 471.4L555.2 471.6L557.2 470.6L559.2 471.3L561.2 470.8L563.2 470.9L565.3 469.4L567.3 470.3L569.3 469.7L571.3 469.8L573.3 468.4L576.6 465L578.2 460.3L581.4 456L584.6 451.9L587 451.6L589.5 450.5L591.9 450L594.3 449.4L592.7 452.5L590.3 454.1L587.9 454.4L586.2 457.9L583 461.2L586.2 465.3L587.9 468.6L587.9 473.5L585.7 474.8L583.6 477.2L581.4 477.4L579.4 478.3L577.4 478.4L575.3 479.5L573.3 478.5L571.3 479.3L569.3 479.6L567.3 480.4L565.3 479.8L562.8 481.1L560.4 482.6L562.6 483L564.7 482.9L566.9 483.2L569 484.4L571.2 484.3L573.3 484.5L575.3 483.9L577.4 484.7L579.4 483.6L581.4 483.5L583.4 482.7L585.4 483.7L587.5 482.4L589.5 482.4L591.5 481.9L593.5 483L595.5 482L597.5 482.1L599.6 481.8L601.6 482.6L603.6 481.9L605.6 481.6L607.6 482L609.6 482.4L611.7 482.2L613.7 481.6L615.7 482.5L617.7 482.4L619.7 482.6L621.7 481.7L623.8 482.8L625.8 482.4L627.8 482.7L629.8 481.6L632.1 482L634.3 480.6L636.6 480L638.9 478.2L641.1 478.4L643.3 477.1L645.4 476.2L647.6 474.7L649.7 474.6L651.9 473.6L654 472.2L656 471.6L658.1 471.5L660.1 471.2L662.1 469.8L664.1 469.3L666.1 468.5L668.1 468.3L670.2 466.3L672.2 466.7L674.2 466.3L676.2 466.7L678.2 465.1L680.3 465.4L682.3 464.6L684.3 464.7L686.3 462.9L688.3 463.8L690.3 464L692.4 464.3L694.4 463.6L696.4 464.2L698.4 464.7L700.4 464.6L702.4 464.4L704.5 464.4L706.5 465.2L708.5 464.5L710.5 464.6L712.5 464.3L714.5 465.4L716.6 464.3L718.6 464.7L720.6 464L722.6 464.9L724.6 463.4L726.7 463.5L728.7 463L730.7 463.7L732.7 462.4L734.7 462.3L736.7 462.6L738.8 463.5L740.8 463.1L742.8 463.2L744.8 462.9L746.8 462.2L748.8 461L750.9 459.7L752.9 460.2L754.9 459.5L756.9 459.1L758.9 457.9L760.9 458.7L763 457.7L765 457.5L767 456.2L769 457.3L771 456.3L773.1 456.2L775.1 455.2L777.1 457.2L779.1 457.5L781.1 458.2L783.1 458.7L785.2 459.7L787.2 459.6L789.2 459.2L791.2 459.5L793.2 460L795.2 460.3L797.3 459.5L799.3 460.3L801.7 462L804.1 464L806.4 462L808.6 462L810.9 460.9L813.2 460.5L815.4 458.4L817.4 459.1L819.5 458.6L821.5 458.7L823.5 457.3L825.5 458L827.5 457.6L829.5 457.4L831.6 456.4L833.6 456.8L835.6 457L837.6 456.4L839.6 456.1L841.6 456.1L843.7 456.7L845.7 455.6L847.7 455.7L849.7 455.6L851.7 456.5L853.7 455.3L855.8 455.8L857.8 455.6L859.8 456.5L861.8 455.3L863.8 455.8L865.9 455.8L867.9 456.7L869.9 455.8L871.9 456.3L873.9 456.5L875.9 457.1L878 456.5L880 456.6L882 457.1L884 456.8L886 456.4L888 455.9L890.1 456.7L892.1 456.1L894.1 456L896.1 455.2L898.1 456.6L900.1 455.9L902.2 456.3L904.2 455.8L906.2 457.2L908.2 456.4L910.2 456.8L912.2 456.4L914.3 458.1L916.3 457.9L918.3 458.4L920.3 458.9L922.3 460.1L924.4 460.3L926.4 460.4L928.4 461.4L930.4 462.1L932.4 462.7L934.4 462.4L936.5 463.8L938.5 464.2L940.5 465L942.5 464.5L944.5 466.2L946.5 466.1L948.6 466.7L950.6 465.8L952.6 467.3L954.6 467.2L956.6 467.7L958.6 467.1L960.7 468.3L957.4 473.7L955 475.8L952.6 477.5L949.4 481.5L952.6 482.8L954.6 482.2L956.6 482.2L958.6 482.4L960.7 483L962.7 482L964.7 482.5L966.7 482.5L968.7 483.3L970.8 482.1L972.8 482.8L974.8 482.7L976.8 482.8"/>
<path d="M531.4 147.7L536.2 148.3L540.2 146.6L536.2 145L531.4 147.7"/>
<path d="M557.2 147.7L562 148.8L563.6 147L558.8 145.9L557.2 147.7"/>
<path d="M531.4 143.2L535.4 143.9L536.2 142.1L533 141.7L531.4 143.2"/>
<path d="M551.5 170.3L554 171.4L553.2 170.1"/>
<path d="M554 191.8L555.6 192.2"/>
<path d="M437.8 182L440.5 182.5L440.2 180.9L438.6 181.2L437.8 182"/>
<path d="M409.5 168.7L413.6 169.4L411.9 168.5L409.5 168.7"/>
<path d="M416.8 176.1L418.7 176.7L417.6 175.6"/>
<path d="M471.7 189.8L474.1 192L473.3 189.4L471.7 189.8"/>
<path d="M479.2 196.9L484.6 198.2L487 202L484.6 201.5L480.5 198.7L479.2 196.9"/>
<path d="M505.5 136.6L510.4 136.6L508.8 134.4L503.9 135L505.5 136.6"/>
<path d="M518.5 141L523.3 141.9L528.1 141.5L526.5 139.5L520.1 139.7L518.5 141"/>
<path d="M508.8 157.4L513.6 157.9"/>
<path d="M500.7 147L503.9 148.3"/>
<path d="M541.1 137.7L545.9 138.4"/>
<path d="M558.8 158.1L565.3 159.9L562.8 157.9L558.8 158.1"/>
<path d="M512 141.5L516.8 142.1"/>
<path d="M547.5 149.9L550.7 151"/>
<path d="M541.1 142.1L544.3 143.2"/>
<path d="M368.4 481.3L371.6 486.8L379.7 493.5L395.8 496.8L411.9 497.9L436.1 496.8L444.2 489.1L436.1 483.5L431.3 480.2"/>
<path d="M218.3 460.2L221.5 465.8L218.3 469.1L215 465.8L218.3 460.2"/></g>
<use href="#co" x="-581"/>
<use href="#co" x="581"/>
<use href="#co" x="-1162"/>
</g>
<g clip-path="url(#fc)" fill="none" stroke="#000" stroke-width="1" shape-rendering="crispEdges">
<g id="ct"><path d="M105 154C107.5 153.3 114 151.2 120 150C126 148.8 134.3 147 141 147C147.7 147 153.5 148.8 160 150C166.5 151.2 173.3 153.2 180 154.5C186.7 155.8 193.3 156.6 200 157.5C206.7 158.4 213.3 159.2 220 160C226.7 160.8 233.3 161 240 162C246.7 163 254.2 164.8 260 166C265.8 167.2 270 167.9 275 169.5C280 171.1 285 173.2 290 175.5C295 177.8 300 180.2 305 183C310 185.8 315 189 320 192C325 195 330 198.5 335 201C340 203.5 345.2 205.8 350 207C354.8 208.2 358.5 208.5 363.5 208.5C368.5 208.5 375.2 208.1 380 207C384.8 205.9 388.8 204 392 202C395.2 200 397.2 198 399 195C400.8 192 402.5 187.8 402.8 184C403.1 180.2 402.5 175.3 401 172C399.5 168.7 398.5 166.2 394 164C389.5 161.8 381.3 160.1 374 159C366.7 157.9 357 159 350 157.5C343 156 335.6 153 332 150C328.4 147 327.9 142.5 328.4 139.5C328.9 136.5 331.4 134 335 132C338.6 130 343.5 128.6 350 127.5C356.5 126.4 366.8 125.9 374 125.4C381.2 124.9 386 124.5 393 124.5C400 124.5 408.2 124.8 416 125.5C423.8 126.2 433.5 127.6 440 129C446.5 130.4 450.4 132.2 455 134C459.6 135.8 463.6 138.1 467.8 140C472 141.9 476 143.8 480 145.5C484 147.2 488 148.4 492 150.5C496 152.6 500.2 155.6 504 158C507.8 160.4 510.7 162.2 515 165C519.3 167.8 525 171.8 530 175C535 178.2 540 181.2 545 184C550 186.8 555 189.8 560 192C565 194.2 570.5 196.2 575 197.5C579.5 198.8 583 199.4 587 199.5C591 199.6 595 199 599 198C603 197 607 195.2 611 193.5C615 191.8 619 189.8 623 187.5C627 185.2 631 182.5 635 180C639 177.5 643 175 647 172.5C651 170 655 167.2 659 165C663 162.8 667.5 160.5 671 159C674.5 157.5 677.5 156.8 680 156C682.5 155.2 685 154.3 686 154"/>
<path d="M105 168C109.3 167.1 123.5 162.8 131 162.5C138.5 162.2 141.8 164.4 150 166C158.2 167.6 168.3 170.5 180 172C191.7 173.5 206.7 174.3 220 175C233.3 175.7 250.8 175.4 260 176C269.2 176.6 270 177.1 275 178.5C280 179.9 285 182.2 290 184.5C295 186.8 300 189.2 305 192C310 194.8 315 198.2 320 201C325 203.8 330 206.5 335 208.5C340 210.5 345.2 211.8 350 213C354.8 214.2 358.5 215.3 363.5 215.4C368.5 215.5 374.8 214.5 380 213.5C385.2 212.5 390.9 211.1 395 209.6C399.1 208.1 401.7 206.9 404.7 204.7C407.7 202.5 410.4 199.3 412.8 196.6C415.2 193.9 417.3 191.2 419.3 188.5C421.3 185.8 423.1 182.7 425 180.5C426.9 178.3 428.5 176.6 431 175.5C433.5 174.4 435.2 173.8 440 174C444.8 174.2 452.1 175.9 459.7 176.4C467.3 176.9 478.9 176.6 485.6 177C492.3 177.4 495.1 178 500 179C504.9 180 510 181.2 515 183C520 184.8 525 187.7 530 190C535 192.3 540 194.9 545 197C550 199.1 555 201 560 202.5C565 204 571.1 205.2 575 206C578.9 206.8 579.4 207.1 583.4 207C587.4 206.9 594.4 206.4 599 205.5C603.6 204.6 607 203.1 611 201.6C615 200.1 619 198.6 623 196.5C627 194.4 631 191.5 635 189C639 186.5 643 183.9 647 181.5C651 179.1 655 176.6 659 174.6C663 172.6 666.5 170.6 671 169.5C675.5 168.4 683.5 168.2 686 168"/>
<path d="M105 179C107.5 178.7 114.2 177.2 120 177C125.8 176.8 133.3 176.8 140 177.5C146.7 178.2 154.2 179.9 160 181C165.8 182.1 167.8 183.7 174.5 184C181.2 184.3 192.4 183.5 200 183C207.6 182.5 213.3 181.3 220 181C226.7 180.7 233.3 180.4 240 181C246.7 181.6 254.2 183.2 260 184.5C265.8 185.8 270 187.2 275 189C280 190.8 285 192.8 290 195C295 197.2 300 200 305 202.5C310 205 314.2 207.2 320 210C325.8 212.8 333.2 216.8 340 219C346.8 221.2 353.8 223.2 360.5 223.5C367.2 223.8 374.2 221.8 380 220.5C385.8 219.2 390.9 217.4 395 216C399.1 214.6 401.5 213.6 404.7 212C407.9 210.4 411.4 208.3 414.4 206.3C417.4 204.3 420.1 201.9 422.5 199.9C424.9 197.9 426.6 195.5 429 194.2C431.4 192.8 433.8 192.2 437 191.8C440.2 191.4 444.6 191.4 448.4 191.5C452.2 191.6 453.5 192.3 459.7 192.6C465.9 192.9 478.9 193.2 485.6 193.4C492.3 193.6 495.1 193.7 500 194C504.9 194.3 510 194.7 515 195.5C520 196.3 525 197.6 530 199C535 200.4 540 202.3 545 204C550 205.7 554.4 207.4 560 209C565.6 210.6 572.8 213.1 578.6 213.6C584.4 214.1 589.8 212.9 595 212C600.2 211.1 605 209.7 610 208C615 206.3 620 204.3 625 202C630 199.7 635 196.7 640 194C645 191.3 650 188.2 655 186C660 183.8 664.8 181.7 670 180.5C675.2 179.3 683.3 179.2 686 179"/>
<path d="M105 186.8C107.5 186.5 115 184.6 120 185C125 185.4 130 187.2 135 189C140 190.8 144.8 193.9 150 196C155.2 198.1 160.7 201.2 166.5 201.8C172.3 202.2 179.4 200.1 185 199C190.6 197.9 194.2 196.2 200 195C205.8 193.8 213.3 192.8 220 192C226.7 191.2 233.3 190.2 240 190.5C246.7 190.8 254.2 192.2 260 193.5C265.8 194.8 270 196.2 275 198C280 199.8 285 201.8 290 204C295 206.2 300 209 305 211.5C310 214 315 216.6 320 219C325 221.4 330 224.2 335 226C340 227.8 344.2 229.3 350 229.5C355.8 229.7 364.2 228 370 227C375.8 226 380.8 224.5 385 223.5C389.2 222.5 391.4 222.2 395 220.9C398.6 219.7 402.5 217.6 406.3 216C410.1 214.4 414.2 212.9 417.7 211.2C421.2 209.4 424.2 206.8 427.4 205.5C430.6 204.2 433.5 203.4 437 203.1C440.5 202.8 444.6 203.4 448.4 203.9C452.2 204.4 453.5 205.6 459.7 206.3C465.9 207 478.9 207.6 485.6 208C492.3 208.4 495.1 208.2 500 208.5C504.9 208.8 510 209.4 515 210C520 210.6 525 211.2 530 212C535 212.8 540 214 545 215C550 216 555.5 217.2 560 218C564.5 218.8 567 219.4 572 219.6C577 219.8 584.5 219.8 590 219C595.5 218.2 600 216.6 605 215C610 213.4 615 211.6 620 209.5C625 207.4 630 204.8 635 202.5C640 200.2 645 197.6 650 195.5C655 193.4 659 191.5 665 190C671 188.5 682.5 187.3 686 186.8"/>
<path d="M105 196C106.7 196 111.7 195 115 196C118.3 197 121.7 199.2 125 202C128.3 204.8 132.2 209.7 135 213C137.8 216.3 139.5 219.9 142 222C144.5 224.1 146.2 225.5 150 225.5C153.8 225.5 160.3 223.5 165 222C169.7 220.5 173 218.7 178 216.8C183 214.8 188 212.3 195 210.5C202 208.7 212.5 206.9 220 205.8C227.5 204.6 233.3 203.5 240 203.5C246.7 203.5 254.2 204.6 260 205.5C265.8 206.4 270 207.4 275 209C280 210.6 285 212.8 290 215C295 217.2 300 219.7 305 222C310 224.3 315 227 320 229C325 231 330 232.9 335 234C340 235.1 344.2 235.6 350 235.5C355.8 235.4 364.2 234.3 370 233.5C375.8 232.7 380.8 231.4 385 230.5C389.2 229.6 391.2 229.4 395 228.2C398.8 227 403.9 224.9 408 223.3C412.1 221.7 416.1 220 419.3 218.5C422.5 217 424.4 215 427.4 214.1C430.3 213.2 433.5 212.6 437 212.8C440.5 213 444.6 214.4 448.4 215.2C452.2 216 453.5 217.4 459.7 217.7C465.9 218 478.9 216.9 485.6 216.9C492.3 216.9 495.1 217.2 500 217.5C504.9 217.8 510 218.1 515 218.5C520 218.9 525 219.4 530 220C535 220.6 538.4 221.3 545 222C551.6 222.7 562.1 224.1 569.6 224.4C577.1 224.7 584.1 224.7 590 224C595.9 223.3 600 221.5 605 220C610 218.5 615 216.8 620 215C625 213.2 630 211 635 209C640 207 645 204.8 650 203C655 201.2 659 199.7 665 198.5C671 197.3 682.5 196.4 686 196"/>
<path d="M105 200C106.7 200 112.2 199.2 115 200C117.8 200.8 119.5 202.5 122 205C124.5 207.5 127 211.2 130 215C133 218.8 136.7 224.5 140 228C143.3 231.5 146.7 233.9 150 236C153.3 238.1 155.8 240.2 160 240.5C164.2 240.8 169.9 239.5 175 238C180.1 236.5 185.8 234.4 190.8 231.8C195.8 229.1 200.1 224.3 205 222C209.9 219.7 214.2 219.2 220 218C225.8 216.8 233.3 214.7 240 214.5C246.7 214.3 254.2 216.1 260 217C265.8 217.9 270 218.7 275 220C280 221.3 285 223.2 290 225C295 226.8 300 229 305 231C310 233 315 235.4 320 237C325 238.6 329.4 239.8 335 240.5C340.6 241.2 346.9 241.6 353.6 241.5C360.3 241.4 368.1 240.8 375 240C381.9 239.2 389.5 238.3 395 237C400.5 235.7 403.9 233.8 408 232.2C412.1 230.6 416.1 229 419.3 227.4C422.5 225.8 424.2 223.8 427.4 222.8C430.6 221.9 434.9 221.5 438.7 221.7C442.5 221.9 446.5 223.4 450 224.1C453.5 224.8 453.8 225.7 459.7 225.8C465.6 226 478.9 225.1 485.6 225C492.3 224.9 495.1 225.2 500 225.5C504.9 225.8 509.2 226.1 515 226.5C520.8 226.9 529.2 227.5 535 228C540.8 228.5 544.3 229.1 550 229.5C555.7 229.9 562.3 230.3 569 230.4C575.7 230.5 584 230.7 590 230C596 229.3 600 227.9 605 226.5C610 225.1 615 223.2 620 221.5C625 219.8 630 217.9 635 216C640 214.1 645 211.8 650 210C655 208.2 659 206.7 665 205C671 203.3 682.5 200.8 686 200"/>
<path d="M105 250C109.2 250.2 120.8 250.3 130 251C139.2 251.7 151.7 253.8 160 254C168.3 254.2 173.3 253.2 180 252C186.7 250.8 194.5 248.7 200 247C205.5 245.3 208.7 243.3 213 242C217.3 240.7 221.5 239 226 239C230.5 239 235.7 241 240 242C244.3 243 248.3 244.7 252 245C255.7 245.3 258.2 244.5 262 244C265.8 243.5 270.3 242.2 275 242C279.7 241.8 285 242.3 290 243C295 243.7 300 245 305 246C310 247 314.2 248.2 320 249C325.8 249.8 333.9 250.8 340 251C346.1 251.2 351.6 250.9 356.6 250.5C361.6 250.1 363.6 248.8 370 248.5C376.4 248.2 386.7 248.9 395 248.8C403.3 248.6 411.7 248.5 420 247.5C428.3 246.5 436.7 244.3 445 243C453.3 241.7 461.7 239.8 470 239.5C478.3 239.2 486.7 240.8 495 241C503.3 241.2 511.7 241.3 520 241C528.3 240.7 537.7 239.6 545 239C552.3 238.4 556.1 238.1 563.6 237.6C571.1 237.1 581.4 236.9 590 236C598.6 235.1 607.5 233.2 615 232C622.5 230.8 629.2 229.5 635 229C640.8 228.5 645.8 228.2 650 229C654.2 229.8 657 231.7 660 234C663 236.3 665.3 240.5 668 243C670.7 245.5 673 247.8 676 249C679 250.2 684.3 249.8 686 250"/>
<path d="M613.4 115.5C605.1 115.7 598.9 116.1 590 116.4C581.1 116.8 570 116.9 560 117.6C550 118.3 538 119.2 530 120.6C522 122 516.2 123.6 512 126C507.8 128.4 505 131.8 504.5 135C504 138.2 506.2 142.2 509 145.5C511.8 148.8 516.5 151.8 521 154.5C525.5 157.2 530.5 159.8 536 162C541.5 164.2 548 166.4 554 168C560 169.6 566 170.8 572 171.6C578 172.4 584.5 172.8 590 172.8C595.5 172.8 601 172 605 171.6C609 171.2 610.5 171.2 614 170.4C617.5 169.6 622 168.4 626 166.5C630 164.6 634 161.8 638 159C642 156.2 646.5 153.2 650 150C653.5 146.8 657 142.7 659 139.5C661 136.3 660.2 133.2 662 131C663.8 128.8 667 127.9 670 126.5C673 125.1 676.2 123.5 680 122.5C683.8 121.5 691.9 121.1 692.8 120.5C693.6 119.9 688.8 119.6 685 119C681.2 118.4 675.2 117.6 670 117C664.8 116.4 658.5 115.8 653.5 115.5C648.5 115.2 646.7 115.5 640 115.5C633.3 115.5 621.7 115.3 613.4 115.5Z"/>
<path d="M103 393.2C105.8 393 113 391.9 120 392C127 392.1 136.7 393.2 145 394C153.3 394.8 161.7 395.6 170 396.5C178.3 397.4 186.7 399 195 399.5C203.3 400 211.7 400.1 220 399.5C228.3 398.9 237.5 396.8 245 395.8C252.5 394.7 260.8 394.1 265 393.2C269.2 392.4 265 391.3 270 390.8C275 390.2 286.7 390.3 295 390C303.3 389.7 311.7 389.5 320 389C328.3 388.5 336.7 388 345 387C353.3 386 361.7 384.2 370 383.2C378.3 382.3 386.7 381.6 395 381.5C403.3 381.4 411.7 381.8 420 382.5C428.3 383.2 436.7 384.8 445 385.8C453.3 386.7 461.7 387.2 470 388.2C478.3 389.3 486.7 390.8 495 392C503.3 393.2 511.7 394.9 520 395.8C528.3 396.6 536.7 397 545 397C553.3 397 563.8 396.1 570 395.8C576.2 395.4 577.5 395.4 582.5 395C587.5 394.6 593.8 394 600 393.2C606.2 392.5 612.5 390.5 620 390.2C627.5 390 636.7 391.1 645 391.5C653.3 391.9 664.2 392.2 670 392.5C675.8 392.8 677.7 393.1 680 393.2C682.3 393.4 683.3 393.2 684 393.2"/>
<path d="M103 399.5C105.8 399.4 113 398.8 120 399C127 399.2 136.7 400 145 400.8C153.3 401.5 161.7 402.2 170 403.2C178.3 404.3 186.7 406.4 195 407C203.3 407.6 211.7 407.4 220 407C228.3 406.6 237.5 405.3 245 404.5C252.5 403.7 260.8 402.8 265 402C269.2 401.2 265 399.9 270 399.5C275 399.1 286.7 399.3 295 399.5C303.3 399.7 311.7 400.1 320 400.8C328.3 401.4 336.7 402.5 345 403.2C353.3 404 361.7 404.6 370 405C378.3 405.4 386.7 405.8 395 405.8C403.3 405.7 411.7 404.9 420 404.5C428.3 404.1 436.7 403.7 445 403.2C453.3 402.8 461.7 402 470 402C478.3 402 486.7 402.6 495 403.2C503.3 403.9 511.7 405 520 405.8C528.3 406.5 536.7 407.2 545 407.5C553.3 407.8 563.8 407.6 570 407.5C576.2 407.4 577.5 407.4 582.5 407C587.5 406.6 593.8 406.1 600 405C606.2 403.9 612.5 401.3 620 400.5C627.5 399.7 636.7 400.1 645 400C653.3 399.9 664.2 399.8 670 399.8C675.8 399.8 677.7 400 680 400C682.3 400 683.3 399.6 684 399.5"/>
<path d="M103 405C105.8 405 113 404.7 120 405C127 405.3 136.7 406.2 145 407C153.3 407.8 161.7 408.6 170 409.5C178.3 410.4 186.7 411.9 195 412.5C203.3 413.1 211.7 413.5 220 413.2C228.3 413 237.5 411.5 245 410.8C252.5 410 260.8 409.6 265 409C269.2 408.4 265 407.1 270 407C275 406.9 286.7 407.6 295 408.2C303.3 408.9 311.7 409.8 320 410.8C328.3 411.7 336.7 413 345 414C353.3 415 361.7 415.9 370 416.5C378.3 417.1 386.7 417.3 395 417.5C403.3 417.7 411.7 417.8 420 417.5C428.3 417.2 436.7 416.3 445 415.8C453.3 415.2 461.7 414.4 470 414C478.3 413.6 486.7 413.2 495 413.2C503.3 413.2 511.7 413.7 520 414C528.3 414.3 536.7 414.9 545 415C553.3 415.1 563.8 414.7 570 414.5C576.2 414.3 577.5 414.5 582.5 414C587.5 413.5 593.8 412.8 600 411.5C606.2 410.2 612.5 407.2 620 406.2C627.5 405.3 636.7 405.9 645 405.8C653.3 405.6 664.2 405.5 670 405.5C675.8 405.5 677.7 405.8 680 405.8C682.3 405.7 683.3 405.1 684 405"/>
<path d="M103 410.8C105.8 410.8 113 410.3 120 410.8C127 411.2 136.7 412.4 145 413.2C153.3 414.1 161.7 414.8 170 415.8C178.3 416.7 186.7 418.5 195 419C203.3 419.5 211.7 419.5 220 419C228.3 418.5 237.5 416.7 245 415.8C252.5 414.8 260.8 413.7 265 413.2C269.2 412.8 265 413 270 413.2C275 413.5 286.7 414.2 295 415C303.3 415.8 311.7 417.1 320 418.2C328.3 419.4 336.7 421 345 422C353.3 423 361.7 423.9 370 424.5C378.3 425.1 386.7 425.7 395 425.8C403.3 425.8 411.7 425.4 420 425C428.3 424.6 436.7 424 445 423.2C453.3 422.5 461.7 421.4 470 420.8C478.3 420.1 486.7 419.6 495 419.5C503.3 419.4 511.7 419.6 520 420C528.3 420.4 536.7 421.5 545 422C553.3 422.5 563.8 422.8 570 422.8C576.2 422.7 577.5 422.2 582.5 421.5C587.5 420.8 593.8 419.9 600 418.2C606.2 416.6 612.5 412.7 620 411.5C627.5 410.3 636.7 411.3 645 411.2C653.3 411.2 664.2 411 670 411C675.8 411 677.7 411.5 680 411.5C682.3 411.5 683.3 410.9 684 410.8"/>
<path d="M103 416C105.8 416.1 113 416 120 416.5C127 417 136.7 418.1 145 419C153.3 419.9 161.7 421 170 422C178.3 423 186.7 424.6 195 425C203.3 425.4 211.7 425.2 220 424.5C228.3 423.8 237.5 421.8 245 420.8C252.5 419.7 260.8 418.5 265 418.2C269.2 418 265 418.6 270 419C275 419.4 286.7 419.9 295 420.8C303.3 421.6 311.7 422.9 320 424C328.3 425.1 336.7 426.4 345 427.5C353.3 428.6 361.7 430 370 430.8C378.3 431.5 386.7 431.9 395 432C403.3 432.1 411.7 432 420 431.5C428.3 431 436.7 429.8 445 429C453.3 428.2 461.7 427.2 470 426.5C478.3 425.8 486.7 425.1 495 425C503.3 424.9 511.7 425.3 520 425.8C528.3 426.2 536.7 427 545 427.5C553.3 428 563.8 428.9 570 429C576.2 429.1 577.5 429.1 582.5 428.2C587.5 427.4 593.8 425.9 600 424C606.2 422.1 612.5 418 620 416.8C627.5 415.5 636.7 416.4 645 416.2C653.3 416.1 664.2 416 670 416C675.8 416 677.7 416.5 680 416.5C682.3 416.5 683.3 416.1 684 416"/>
<path d="M103 422C105.8 422 113 421.6 120 422C127 422.4 136.7 423.6 145 424.5C153.3 425.4 161.7 426.5 170 427.5C178.3 428.5 186.7 430.3 195 430.8C203.3 431.2 211.7 430.8 220 430C228.3 429.2 237.5 426.9 245 425.8C252.5 424.6 260.8 423.5 265 423.2C269.2 423 265 423.6 270 424C275 424.4 286.7 424.9 295 425.8C303.3 426.6 311.7 427.8 320 429C328.3 430.2 336.7 432 345 433.2C353.3 434.5 361.7 435.7 370 436.5C378.3 437.3 386.7 438.1 395 438.2C403.3 438.4 411.7 438 420 437.5C428.3 437 436.7 435.9 445 435C453.3 434.1 461.7 432.8 470 432C478.3 431.2 486.7 430.2 495 430C503.3 429.8 511.7 430.3 520 430.8C528.3 431.2 536.7 432.1 545 432.8C553.3 433.4 563.8 434.4 570 434.5C576.2 434.6 577.5 434.2 582.5 433.2C587.5 432.3 593.8 430.9 600 429C606.2 427.1 612.5 423 620 421.8C627.5 420.5 636.7 421.6 645 421.5C653.3 421.4 664.2 421.2 670 421.2C675.8 421.3 677.7 421.9 680 422C682.3 422.1 683.3 422 684 422"/>
<path d="M103 427.5C105.8 427.5 113 427.1 120 427.5C127 427.9 136.7 429 145 430C153.3 431 161.7 432.3 170 433.2C178.3 434.2 186.7 435.5 195 435.8C203.3 436 211.7 436 220 435C228.3 434 237.5 431.2 245 430C252.5 428.8 260.8 427.7 265 427.5C269.2 427.3 265 428.5 270 429C275 429.5 286.7 429.8 295 430.8C303.3 431.7 311.7 433.1 320 434.5C328.3 435.9 336.7 437.7 345 439C353.3 440.3 361.7 441.6 370 442.5C378.3 443.4 386.7 444.2 395 444.5C403.3 444.8 411.7 444.5 420 444C428.3 443.5 436.7 442.5 445 441.5C453.3 440.5 461.7 438.7 470 437.8C478.3 436.8 486.7 436.1 495 435.8C503.3 435.4 511.7 435.3 520 435.8C528.3 436.2 536.7 437.5 545 438.2C553.3 439 563.8 439.8 570 440C576.2 440.2 577.5 440.3 582.5 439.5C587.5 438.7 593.8 437.1 600 435C606.2 432.9 612.5 428.4 620 427C627.5 425.6 636.7 426.6 645 426.5C653.3 426.4 664.2 426.2 670 426.2C675.8 426.3 677.7 426.8 680 427C682.3 427.2 683.3 427.4 684 427.5"/>
<path d="M103 433C105.8 432.9 113 432.2 120 432.5C127 432.8 136.7 434 145 435C153.3 436 161.7 437.4 170 438.2C178.3 439.1 186.7 439.8 195 440C203.3 440.2 211.7 440.3 220 439.5C228.3 438.7 237.5 436.2 245 435C252.5 433.8 260.8 432.6 265 432.5C269.2 432.4 265 433.8 270 434.5C275 435.2 286.7 435.6 295 436.5C303.3 437.4 311.7 438.7 320 440C328.3 441.3 336.7 443.1 345 444.5C353.3 445.9 361.7 447.2 370 448.2C378.3 449.3 386.7 450.5 395 450.8C403.3 451 411.7 450.5 420 450C428.3 449.5 436.7 448.5 445 447.5C453.3 446.5 461.7 445 470 444C478.3 443 486.7 441.9 495 441.5C503.3 441.1 511.7 441.1 520 441.5C528.3 441.9 536.7 443.2 545 444C553.3 444.8 563.8 446.2 570 446.5C576.2 446.8 577.5 446.6 582.5 445.8C587.5 444.9 593.8 443.6 600 441.5C606.2 439.4 612.5 434.5 620 433C627.5 431.5 636.7 432.5 645 432.2C653.3 432 664.2 431.5 670 431.5C675.8 431.5 677.7 432.2 680 432.5C682.3 432.8 683.3 432.9 684 433"/>
<path d="M103 438.5C105.8 438.2 113 437 120 437C127 437 136.7 437.9 145 438.5C153.3 439.1 161.7 440.1 170 440.8C178.3 441.4 186.7 442.3 195 442.5C203.3 442.7 211.7 442.4 220 442C228.3 441.6 237.5 440.6 245 440C252.5 439.4 260.8 438.1 265 438.2C269.2 438.4 265 440 270 440.8C275 441.5 286.7 441.5 295 442.5C303.3 443.5 311.7 445.1 320 446.5C328.3 447.9 336.7 449.3 345 450.8C353.3 452.2 361.7 454 370 455C378.3 456 386.7 456.8 395 457C403.3 457.2 411.7 457 420 456.5C428.3 456 436.7 455 445 454C453.3 453 461.7 451.7 470 450.8C478.3 449.8 486.7 448.7 495 448.2C503.3 447.8 511.7 447.7 520 448.2C528.3 448.8 536.7 450 545 451.5C553.3 453 563.8 455.8 570 457C576.2 458.2 577.5 459.2 582.5 459C587.5 458.8 593.8 457.5 600 455.8C606.2 454 612.5 450.8 620 448.8C627.5 446.7 636.7 445 645 443.2C653.3 441.5 664.2 439 670 438C675.8 437 677.7 436.9 680 437C682.3 437.1 683.3 438.2 684 438.5"/>
<path d="M470 462C474.2 461.7 486.7 460.2 495 460C503.3 459.8 514 460 520 460.8C526 461.5 528.8 463 531.2 464.5C533.7 466 534.7 467.4 534.5 469.5C534.3 471.6 532.2 474.9 530 477C527.8 479.1 519.9 480.4 521.2 482C522.6 483.6 532 486.1 538 486.5C544 486.9 550.5 485.3 557.5 484.5C564.5 483.7 572.9 482.1 580 481.5C587.1 480.9 594 481.4 600 481C606 480.6 610.6 480.8 616 479.3C621.4 477.8 628.2 474.9 632.5 472C636.8 469.1 638.5 464.8 642 462C645.5 459.2 649.3 457.2 653.6 455C657.9 452.8 662.3 450.5 668 449C673.7 447.5 680.5 446.7 688 446C695.5 445.3 706.3 444.8 713 444.7C719.7 444.6 725.5 445.4 728 445.5"/>
<path d="M72 455C74.8 454 82.5 450.4 88.5 448.7C94.5 447.1 101.3 445.5 107.8 445.1C114.2 444.8 120.6 445.7 127 446.5C133.4 447.3 139.8 448.7 146.3 449.8C152.7 450.9 159.6 452.2 165.5 453.4C171.5 454.6 176.1 455.9 182 457C188 458 194.8 459.8 201.3 459.7C207.7 459.6 214.6 457 220.5 456.1C226.5 455.3 234.3 455 237 454.8"/>
<path d="M560 507C566.7 506.9 584.4 506.7 600 506.5C615.6 506.3 637.7 506.7 653.5 505.6C669.3 504.5 685.1 502 695 500C704.9 498 713 496.5 713 493.5C713 490.5 699.9 484.9 695 482C690.1 479.1 683.5 477.8 683.5 476C683.5 474.2 690.8 472.5 695 471.5C699.2 470.5 702.8 470.1 709 470C715.2 469.9 726.5 470.9 732 470.7C737.5 470.4 738.6 469.4 742 468.5C745.4 467.6 749.2 466.5 752.5 465C755.8 463.5 760.4 460.6 762 459.7"/>
<path d="M153.1 479.5C155.7 479 162.5 477 168.3 476.8C174 476.5 181.6 477.2 187.5 478.1C193.5 479 199.4 481.3 204 482.3C208.6 483.2 210.9 483.6 215 483.6C219.1 483.6 224.2 483 228.8 482.3C233.3 481.5 239.3 480.3 242.5 479C245.7 477.6 245.7 475.7 248 474C250.3 472.3 253.7 469.6 256.3 468.5C258.8 467.4 259.9 467.7 263.1 467.7C266.4 467.7 270.7 468 275.5 468.5C280.3 469 288 472.6 292 470.7C296 468.8 293.7 459.2 299.5 457C305.3 454.7 319 456.5 327 457C335 457.4 341.7 458.5 347.6 459.4C353.6 460.3 357 461.5 362.8 462.5C368.5 463.4 374.2 464.2 382 465.2C389.8 466.2 400.3 467.7 409.5 468.5C418.7 469.3 427.8 470.1 437 469.9C446.2 469.6 455.4 468.3 464.5 467.1C473.7 466 487.4 463.7 492 463"/>
<path d="M153.1 479.5C155.2 480.4 160.7 483.1 165.5 485C170.3 486.9 176.1 489.2 182 491.1C188 492.9 193.9 494.8 201.3 496C208.6 497.2 217.8 498.2 226 498.2C234.3 498.2 242.5 497.1 250.8 496C259 495 268.6 493.3 275.5 491.9C282.4 490.5 289.9 489.1 292 487.8C294.2 486.4 287.3 484.5 288.5 483.6C289.7 482.7 296.1 483 299.5 482.3C302.9 481.5 308.2 480.3 309.1 479C310 477.6 308.4 475.3 305 474C301.6 472.7 294 472.2 288.5 471.3C283 470.3 274.8 469 272 468.5"/>
<path d="M338 463C338.7 464.4 342.1 468.7 342.1 471.3C342.1 473.8 340.5 476.1 338 478.1C335.5 480.2 330.7 481.8 327 483.6C323.3 485.5 318.8 487.3 316 489.1C313.3 491 310.5 492.8 310.5 494.6C310.5 496.5 312.3 498.6 316 500.1C319.7 501.6 326.1 502.8 332.5 503.7C338.9 504.6 346.3 505.1 354.5 505.6C362.8 506.2 371.9 506.6 382 507C392.1 507.4 409.5 507.7 415 507.8"/>
<path d="M365.5 482.3C368.3 482.2 376.4 481.7 382 481.7C387.6 481.7 393.6 481.9 399.1 482.3C404.6 482.6 410.5 482.9 415 483.6C419.5 484.3 421.4 485.5 426 486.4C430.6 487.3 439.8 488.7 442.5 489.1"/>
<path d="M685.8 372.7C685.5 374.4 684.3 376.1 682.5 377.3C680.8 378.6 678.2 379.6 675.3 380.2C672.4 380.9 668.7 381.2 665.1 381.1C661.5 381 657.4 380.5 653.7 379.7C649.9 378.9 646 377.7 642.7 376.3C639.4 374.9 636.2 373.2 633.8 371.4C631.4 369.7 629.4 367.7 628.3 365.8C627.2 363.9 626.8 361.9 627.2 360.3C627.5 358.6 628.7 356.9 630.5 355.7C632.2 354.4 634.8 353.4 637.7 352.8C640.6 352.1 644.3 351.8 647.9 351.9C651.5 352 655.6 352.5 659.3 353.3C663.1 354.1 667 355.3 670.3 356.7C673.6 358.1 676.8 359.8 679.2 361.6C681.6 363.3 683.6 365.3 684.7 367.2C685.8 369.1 686.2 371.1 685.8 372.7Z"/>
<path d="M159.5 369C159.5 371.2 159 373.5 158.2 375.5C157.3 377.5 156 379.5 154.4 381C152.8 382.6 150.8 383.9 148.7 384.7C146.6 385.5 144.2 386 142 386C139.8 386 137.4 385.5 135.3 384.7C133.2 383.9 131.2 382.6 129.6 381C128 379.5 126.7 377.5 125.8 375.5C125 373.5 124.5 371.2 124.5 369C124.5 366.8 125 364.5 125.8 362.5C126.7 360.5 128 358.5 129.6 357C131.2 355.4 133.2 354.1 135.3 353.3C137.4 352.5 139.8 352 142 352C144.2 352 146.6 352.5 148.7 353.3C150.8 354.1 152.8 355.4 154.4 357C156 358.5 157.3 360.5 158.2 362.5C159 364.5 159.5 366.8 159.5 369Z"/>
<path d="M237.8 373C237.6 374.1 236.9 375.1 235.7 376C234.5 376.8 232.7 377.6 230.7 378.1C228.7 378.6 226.1 378.9 223.6 378.9C221 379 218 378.8 215.3 378.4C212.6 378 209.7 377.4 207.3 376.6C204.8 375.9 202.4 374.9 200.6 373.8C198.8 372.8 197.3 371.6 196.4 370.5C195.5 369.3 195.1 368.1 195.2 367C195.4 365.9 196.1 364.9 197.3 364C198.5 363.2 200.3 362.4 202.3 361.9C204.3 361.4 206.9 361.1 209.4 361.1C212 361 215 361.2 217.7 361.6C220.4 362 223.3 362.6 225.7 363.4C228.2 364.1 230.6 365.1 232.4 366.2C234.2 367.2 235.7 368.4 236.6 369.5C237.5 370.7 237.9 371.9 237.8 373Z"/>
<path d="M328.4 366.9C328.3 368.6 327.5 370.4 326.3 371.9C325.2 373.4 323.4 374.8 321.3 375.8C319.3 376.9 316.7 377.7 314.1 378.1C311.5 378.6 308.6 378.7 305.8 378.4C303.1 378.2 300.2 377.6 297.7 376.7C295.2 375.8 292.8 374.6 291 373.2C289.2 371.8 287.7 370.1 286.8 368.4C285.9 366.7 285.4 364.8 285.6 363.1C285.7 361.4 286.5 359.6 287.7 358.1C288.8 356.6 290.6 355.2 292.7 354.2C294.7 353.1 297.3 352.3 299.9 351.9C302.5 351.4 305.4 351.3 308.2 351.6C310.9 351.8 313.8 352.4 316.3 353.3C318.8 354.2 321.2 355.4 323 356.8C324.8 358.2 326.3 359.9 327.2 361.6C328.1 363.3 328.6 365.2 328.4 366.9Z"/>
<path d="M540.5 373.5C540.3 374.9 539.2 376.2 537.4 377.2C535.7 378.2 533.1 379 530.1 379.5C527.1 380 523.4 380.2 519.6 380.1C515.9 380 511.5 379.5 507.6 378.8C503.6 378.1 499.4 377.1 495.9 375.9C492.3 374.7 488.8 373.3 486.2 371.8C483.6 370.3 481.4 368.6 480.1 367.1C478.8 365.5 478.2 363.9 478.5 362.5C478.7 361.1 479.8 359.8 481.6 358.8C483.3 357.8 485.9 357 488.9 356.5C491.9 356 495.6 355.8 499.4 355.9C503.1 356 507.5 356.5 511.4 357.2C515.4 357.9 519.6 358.9 523.1 360.1C526.7 361.3 530.2 362.7 532.8 364.2C535.4 365.7 537.6 367.4 538.9 368.9C540.2 370.5 540.8 372.1 540.5 373.5Z"/>
<path d="M166.3 280.3C166.4 281 166.1 281.8 165.4 282.5C164.7 283.3 163.6 284.1 162.2 284.8C160.9 285.5 159.1 286.2 157.3 286.7C155.4 287.2 153.3 287.7 151.3 287.9C149.2 288.2 147 288.4 145.1 288.4C143.2 288.4 141.3 288.2 139.8 287.9C138.3 287.6 137 287.2 136.2 286.6C135.3 286.1 134.8 285.4 134.7 284.7C134.6 284 134.9 283.2 135.6 282.5C136.3 281.7 137.4 280.9 138.8 280.2C140.1 279.5 141.9 278.8 143.7 278.3C145.6 277.8 147.7 277.3 149.7 277.1C151.8 276.8 154 276.6 155.9 276.6C157.8 276.6 159.7 276.8 161.2 277.1C162.7 277.4 164 277.8 164.8 278.4C165.7 278.9 166.2 279.6 166.3 280.3Z"/>
<path d="M170 267.5C171.7 266.4 176.2 262.8 180 261C183.8 259.2 188.3 257.6 192.5 257C196.7 256.4 200.4 256.8 205 257.5C209.6 258.2 214.8 260.2 220 261C225.2 261.8 231.8 261.8 236 262.5C240.2 263.2 241.8 265.4 245 265C248.2 264.6 251.7 261.2 255 260C258.3 258.8 262.5 258.2 265 257.5C267.5 256.8 266.7 256.6 270 256C273.3 255.4 280.5 255.2 285 254C289.5 252.8 295 249.8 297 249"/>
<path d="M497 250C500 250.5 507.8 252.2 515 253C522.2 253.8 531.7 255.2 540 255C548.3 254.8 556.7 253 565 252C573.3 251 583.3 249.5 590 249C596.7 248.5 601.8 248.5 605 249C608.2 249.5 609.5 250.2 609 252C608.5 253.8 605.5 257.5 602 260C598.5 262.5 592.5 265.3 588 267C583.5 268.7 579.7 269.3 575 270C570.3 270.7 565 270.7 560 271C555 271.3 547.5 271.8 545 272"/></g>
<use href="#ct" x="-581"/>
<use href="#ct" x="581"/>
</g>
<g clip-path="url(#fc)" font-size="8.2" text-anchor="middle" fill="#000" stroke="#000" stroke-width="0.3">
<rect x="134" y="143" width="14" height="8" fill="#fff" stroke="none" shape-rendering="crispEdges"/>
<text x="141" y="150" textLength="12.5" lengthAdjust="spacingAndGlyphs">280</text>
<rect x="124" y="158" width="14" height="8" fill="#fff" stroke="none" shape-rendering="crispEdges"/>
<text x="131" y="165" textLength="12.5" lengthAdjust="spacingAndGlyphs">285</text>
<rect x="168" y="180" width="14" height="8" fill="#fff" stroke="none" shape-rendering="crispEdges"/>
<text x="175" y="187" textLength="12.5" lengthAdjust="spacingAndGlyphs">290</text>
<rect x="160" y="198" width="14" height="8" fill="#fff" stroke="none" shape-rendering="crispEdges"/>
<text x="167" y="205" textLength="12.5" lengthAdjust="spacingAndGlyphs">295</text>
<rect x="171" y="213" width="14" height="8" fill="#fff" stroke="none" shape-rendering="crispEdges"/>
<text x="178" y="220" textLength="12.5" lengthAdjust="spacingAndGlyphs">300</text>
<rect x="184" y="228" width="14" height="8" fill="#fff" stroke="none" shape-rendering="crispEdges"/>
<text x="191" y="235" textLength="12.5" lengthAdjust="spacingAndGlyphs">305</text>
<rect x="219" y="235" width="14" height="8" fill="#fff" stroke="none" shape-rendering="crispEdges"/>
<text x="226" y="242" textLength="12.5" lengthAdjust="spacingAndGlyphs">310</text>
<rect x="356" y="204" width="14" height="8" fill="#fff" stroke="none" shape-rendering="crispEdges"/>
<text x="363" y="211" textLength="12.5" lengthAdjust="spacingAndGlyphs">280</text>
<rect x="356" y="211" width="14" height="8" fill="#fff" stroke="none" shape-rendering="crispEdges"/>
<text x="363" y="218" textLength="12.5" lengthAdjust="spacingAndGlyphs">285</text>
<rect x="354" y="220" width="14" height="8" fill="#fff" stroke="none" shape-rendering="crispEdges"/>
<text x="361" y="227" textLength="12.5" lengthAdjust="spacingAndGlyphs">290</text>
<rect x="343" y="226" width="14" height="8" fill="#fff" stroke="none" shape-rendering="crispEdges"/>
<text x="350" y="233" textLength="12.5" lengthAdjust="spacingAndGlyphs">295</text>
<rect x="343" y="232" width="14" height="8" fill="#fff" stroke="none" shape-rendering="crispEdges"/>
<text x="350" y="239" textLength="12.5" lengthAdjust="spacingAndGlyphs">300</text>
<rect x="347" y="238" width="14" height="8" fill="#fff" stroke="none" shape-rendering="crispEdges"/>
<text x="354" y="245" textLength="12.5" lengthAdjust="spacingAndGlyphs">305</text>
<rect x="350" y="246" width="14" height="8" fill="#fff" stroke="none" shape-rendering="crispEdges"/>
<text x="357" y="253" textLength="12.5" lengthAdjust="spacingAndGlyphs">310</text>
<rect x="386" y="120" width="14" height="8" fill="#fff" stroke="none" shape-rendering="crispEdges"/>
<text x="393" y="127" textLength="12.5" lengthAdjust="spacingAndGlyphs">280</text>
<rect x="580" y="196" width="14" height="8" fill="#fff" stroke="none" shape-rendering="crispEdges"/>
<text x="587" y="203" textLength="12.5" lengthAdjust="spacingAndGlyphs">280</text>
<rect x="576" y="203" width="14" height="8" fill="#fff" stroke="none" shape-rendering="crispEdges"/>
<text x="583" y="210" textLength="12.5" lengthAdjust="spacingAndGlyphs">285</text>
<rect x="572" y="210" width="14" height="8" fill="#fff" stroke="none" shape-rendering="crispEdges"/>
<text x="579" y="217" textLength="12.5" lengthAdjust="spacingAndGlyphs">290</text>
<rect x="565" y="216" width="14" height="8" fill="#fff" stroke="none" shape-rendering="crispEdges"/>
<text x="572" y="223" textLength="12.5" lengthAdjust="spacingAndGlyphs">295</text>
<rect x="563" y="220" width="14" height="8" fill="#fff" stroke="none" shape-rendering="crispEdges"/>
<text x="570" y="227" textLength="12.5" lengthAdjust="spacingAndGlyphs">300</text>
<rect x="562" y="226" width="14" height="8" fill="#fff" stroke="none" shape-rendering="crispEdges"/>
<text x="569" y="233" textLength="12.5" lengthAdjust="spacingAndGlyphs">305</text>
<rect x="557" y="234" width="14" height="8" fill="#fff" stroke="none" shape-rendering="crispEdges"/>
<text x="564" y="241" textLength="12.5" lengthAdjust="spacingAndGlyphs">310</text>
<rect x="606" y="112" width="14" height="8" fill="#fff" stroke="none" shape-rendering="crispEdges"/>
<text x="613" y="119" textLength="12.5" lengthAdjust="spacingAndGlyphs">275</text>
<rect x="607" y="166" width="14" height="8" fill="#fff" stroke="none" shape-rendering="crispEdges"/>
<text x="614" y="173" textLength="12.5" lengthAdjust="spacingAndGlyphs">275</text>
<rect x="188" y="396" width="14" height="8" fill="#fff" stroke="none" shape-rendering="crispEdges"/>
<text x="195" y="403" textLength="12.5" lengthAdjust="spacingAndGlyphs">310</text>
<rect x="188" y="403" width="14" height="8" fill="#fff" stroke="none" shape-rendering="crispEdges"/>
<text x="195" y="410" textLength="12.5" lengthAdjust="spacingAndGlyphs">305</text>
<rect x="188" y="408" width="14" height="8" fill="#fff" stroke="none" shape-rendering="crispEdges"/>
<text x="195" y="415" textLength="12.5" lengthAdjust="spacingAndGlyphs">300</text>
<rect x="258" y="410" width="14" height="8" fill="#fff" stroke="none" shape-rendering="crispEdges"/>
<text x="265" y="417" textLength="12.5" lengthAdjust="spacingAndGlyphs">295</text>
<rect x="258" y="414" width="14" height="8" fill="#fff" stroke="none" shape-rendering="crispEdges"/>
<text x="265" y="421" textLength="12.5" lengthAdjust="spacingAndGlyphs">290</text>
<rect x="258" y="418" width="14" height="8" fill="#fff" stroke="none" shape-rendering="crispEdges"/>
<text x="265" y="425" textLength="12.5" lengthAdjust="spacingAndGlyphs">285</text>
<rect x="258" y="423" width="14" height="8" fill="#fff" stroke="none" shape-rendering="crispEdges"/>
<text x="265" y="430" textLength="12.5" lengthAdjust="spacingAndGlyphs">280</text>
<rect x="258" y="428" width="14" height="8" fill="#fff" stroke="none" shape-rendering="crispEdges"/>
<text x="265" y="435" textLength="12.5" lengthAdjust="spacingAndGlyphs">275</text>
<rect x="252" y="434" width="14" height="8" fill="#fff" stroke="none" shape-rendering="crispEdges"/>
<text x="259" y="441" textLength="12.5" lengthAdjust="spacingAndGlyphs">270</text>
<rect x="257" y="464" width="14" height="8" fill="#fff" stroke="none" shape-rendering="crispEdges"/>
<text x="264" y="471" textLength="12.5" lengthAdjust="spacingAndGlyphs">270</text>
<rect x="143" y="467" width="14" height="8" fill="#fff" stroke="none" shape-rendering="crispEdges"/>
<text x="150" y="474" textLength="12.5" lengthAdjust="spacingAndGlyphs">265</text>
<rect x="208" y="474" width="14" height="8" fill="#fff" stroke="none" shape-rendering="crispEdges"/>
<text x="215" y="481" textLength="12.5" lengthAdjust="spacingAndGlyphs">265</text>
<rect x="394" y="378" width="14" height="8" fill="#fff" stroke="none" shape-rendering="crispEdges"/>
<text x="401" y="385" textLength="12.5" lengthAdjust="spacingAndGlyphs">310</text>
<rect x="384" y="402" width="14" height="8" fill="#fff" stroke="none" shape-rendering="crispEdges"/>
<text x="391" y="409" textLength="12.5" lengthAdjust="spacingAndGlyphs">305</text>
<rect x="384" y="414" width="14" height="8" fill="#fff" stroke="none" shape-rendering="crispEdges"/>
<text x="391" y="421" textLength="12.5" lengthAdjust="spacingAndGlyphs">300</text>
<rect x="340" y="456" width="14" height="8" fill="#fff" stroke="none" shape-rendering="crispEdges"/>
<text x="347" y="463" textLength="12.5" lengthAdjust="spacingAndGlyphs">265</text>
<rect x="392" y="479" width="14" height="8" fill="#fff" stroke="none" shape-rendering="crispEdges"/>
<text x="399" y="486" textLength="12.5" lengthAdjust="spacingAndGlyphs">260</text>
<rect x="530" y="376" width="14" height="8" fill="#fff" stroke="none" shape-rendering="crispEdges"/>
<text x="537" y="383" textLength="12.5" lengthAdjust="spacingAndGlyphs">315</text>
<rect x="574" y="391" width="14" height="8" fill="#fff" stroke="none" shape-rendering="crispEdges"/>
<text x="581" y="398" textLength="12.5" lengthAdjust="spacingAndGlyphs">310</text>
<rect x="570" y="403" width="14" height="8" fill="#fff" stroke="none" shape-rendering="crispEdges"/>
<text x="577" y="410" textLength="12.5" lengthAdjust="spacingAndGlyphs">305</text>
<rect x="574" y="410" width="14" height="8" fill="#fff" stroke="none" shape-rendering="crispEdges"/>
<text x="581" y="417" textLength="12.5" lengthAdjust="spacingAndGlyphs">300</text>
<rect x="567" y="419" width="14" height="8" fill="#fff" stroke="none" shape-rendering="crispEdges"/>
<text x="574" y="426" textLength="12.5" lengthAdjust="spacingAndGlyphs">295</text>
<rect x="574" y="424" width="14" height="8" fill="#fff" stroke="none" shape-rendering="crispEdges"/>
<text x="581" y="431" textLength="12.5" lengthAdjust="spacingAndGlyphs">290</text>
<rect x="573" y="429" width="14" height="8" fill="#fff" stroke="none" shape-rendering="crispEdges"/>
<text x="580" y="436" textLength="12.5" lengthAdjust="spacingAndGlyphs">285</text>
<rect x="574" y="436" width="14" height="8" fill="#fff" stroke="none" shape-rendering="crispEdges"/>
<text x="581" y="443" textLength="12.5" lengthAdjust="spacingAndGlyphs">280</text>
<rect x="578" y="442" width="14" height="8" fill="#fff" stroke="none" shape-rendering="crispEdges"/>
<text x="585" y="449" textLength="12.5" lengthAdjust="spacingAndGlyphs">275</text>
<rect x="576" y="455" width="14" height="8" fill="#fff" stroke="none" shape-rendering="crispEdges"/>
<text x="583" y="462" textLength="12.5" lengthAdjust="spacingAndGlyphs">270</text>
<rect x="531" y="482" width="14" height="8" fill="#fff" stroke="none" shape-rendering="crispEdges"/>
<text x="538" y="489" textLength="12.5" lengthAdjust="spacingAndGlyphs">265</text>
<rect x="554" y="502" width="14" height="8" fill="#fff" stroke="none" shape-rendering="crispEdges"/>
<text x="561" y="509" textLength="12.5" lengthAdjust="spacingAndGlyphs">265</text>
<rect x="663" y="377" width="14" height="8" fill="#fff" stroke="none" shape-rendering="crispEdges"/>
<text x="670" y="384" textLength="12.5" lengthAdjust="spacingAndGlyphs">315</text>
<rect x="706" y="440" width="14" height="8" fill="#fff" stroke="none" shape-rendering="crispEdges"/>
<text x="713" y="447" textLength="12.5" lengthAdjust="spacingAndGlyphs">265</text>
<rect x="230" y="258" width="14" height="8" fill="#fff" stroke="none" shape-rendering="crispEdges"/>
<text x="237" y="265" textLength="12.5" lengthAdjust="spacingAndGlyphs">315</text>
<rect x="568" y="266" width="14" height="8" fill="#fff" stroke="none" shape-rendering="crispEdges"/>
<text x="575" y="273" textLength="12.5" lengthAdjust="spacingAndGlyphs">315</text>
</g>
<rect x="72" y="110" width="655" height="399" fill="none" stroke="#000" stroke-width="2" shape-rendering="crispEdges"/>
<g stroke="#000" stroke-width="1" shape-rendering="crispEdges">
<path d="M105.5 510V513"/>
<path d="M202.5 510V513"/>
<path d="M298.5 510V513"/>
<path d="M395.5 510V513"/>
<path d="M492.5 510V513"/>
<path d="M589.5 510V513"/>
<path d="M686.5 510V513"/>
<path d="M68 132.5H71"/>
<path d="M68 176.5H71"/>
<path d="M68 221.5H71"/>
<path d="M68 265.5H71"/>
<path d="M68 310.5H71"/>
<path d="M68 354.5H71"/>
<path d="M68 398.5H71"/>
<path d="M68 443.5H71"/>
<path d="M68 487.5H71"/>
</g>
<g font-size="10.5" fill="#000">
<text x="106" y="523" text-anchor="middle" textLength="5" lengthAdjust="spacingAndGlyphs">0</text>
<text x="203" y="523" text-anchor="middle" textLength="16.5" lengthAdjust="spacingAndGlyphs">60E</text>
<text x="299" y="523" text-anchor="middle" textLength="22" lengthAdjust="spacingAndGlyphs">120E</text>
<text x="396" y="523" text-anchor="middle" textLength="15" lengthAdjust="spacingAndGlyphs">180</text>
<text x="493" y="523" text-anchor="middle" textLength="23" lengthAdjust="spacingAndGlyphs">120W</text>
<text x="590" y="523" text-anchor="middle" textLength="17.5" lengthAdjust="spacingAndGlyphs">60W</text>
<text x="687" y="523" text-anchor="middle" textLength="5" lengthAdjust="spacingAndGlyphs">0</text>
<text x="66.5" y="136.3" text-anchor="end" textLength="17" lengthAdjust="spacingAndGlyphs">80N</text>
<text x="66.5" y="180.3" text-anchor="end" textLength="17" lengthAdjust="spacingAndGlyphs">60N</text>
<text x="66.5" y="225.3" text-anchor="end" textLength="17" lengthAdjust="spacingAndGlyphs">40N</text>
<text x="66.5" y="269.3" text-anchor="end" textLength="17" lengthAdjust="spacingAndGlyphs">20N</text>
<text x="66.5" y="314.3" text-anchor="end" textLength="10.5" lengthAdjust="spacingAndGlyphs">EQ</text>
<text x="66.5" y="358.3" text-anchor="end" textLength="17" lengthAdjust="spacingAndGlyphs">20S</text>
<text x="66.5" y="402.3" text-anchor="end" textLength="17" lengthAdjust="spacingAndGlyphs">40S</text>
<text x="66.5" y="447.3" text-anchor="end" textLength="17" lengthAdjust="spacingAndGlyphs">60S</text>
<text x="66.5" y="491.3" text-anchor="end" textLength="17" lengthAdjust="spacingAndGlyphs">80S</text>
</g>
<g font-size="13" fill="#1e3cff" stroke="#fff" stroke-width="0">
<text x="73.5" y="106.5" textLength="22.8" lengthAdjust="spacingAndGlyphs">Feb</text>
<text x="105.6" y="106.5" textLength="33.4" lengthAdjust="spacingAndGlyphs">2026</text>
</g>
<g font-size="11.5" fill="#000" stroke="#fff" stroke-width="0">
<text x="496" y="107" textLength="27.6" lengthAdjust="spacingAndGlyphs">Initial</text>
<text x="531.4" y="107" textLength="60.6" lengthAdjust="spacingAndGlyphs">conditions:</text>
<text x="598.6" y="107" textLength="128.4" lengthAdjust="spacingAndGlyphs">3Jan2026-12Jan2026</text>
</g>
<g>
<circle cx="672.5" cy="55.3" r="22.7" fill="#fff"/>
<clipPath id="lc"><circle cx="672.5" cy="55.3" r="22.7"/></clipPath>
<g clip-path="url(#lc)">
<path d="M654.1 43.4L640 20L705 20L690.9 42.5L685.6 49.2L680.7 57L676.9 59.7L673 60.1L668.1 58L663.3 53.1L659.4 48.3Z" fill="#1832d8"/>
<path d="M640 40L650.5 48.8L658.4 55.1L666.2 61.1L670 63L676 61.5L682.7 58.5L688.5 53.1L694.1 47.8L705 40L705 90L640 90Z" fill="#00ffff"/>
<path d="M666.2 65.3L672 61.9L683.6 59.7L677.3 62.6L671 65Z" fill="#fff"/>
</g>
<text x="672.6" y="48.9" font-size="8" font-weight="bold" fill="#fff" text-anchor="middle" textLength="19" lengthAdjust="spacingAndGlyphs">NOAA</text>
</g>
<g font-size="13" fill="#fa3c3c" stroke="#fff" stroke-width="0">
<text x="110.1" y="81" textLength="46" lengthAdjust="spacingAndGlyphs">CFSv2</text>
<text x="169.4" y="81" textLength="60" lengthAdjust="spacingAndGlyphs">monthly</text>
<text x="245.5" y="81" textLength="33.7" lengthAdjust="spacingAndGlyphs">z700</text>
<text x="287.5" y="81" textLength="80.6" lengthAdjust="spacingAndGlyphs">anomalies</text>
<text x="377.5" y="81" textLength="25.5" lengthAdjust="spacingAndGlyphs">(m;</text>
<text x="414.5" y="81" textLength="60" lengthAdjust="spacingAndGlyphs">shaded)</text>
<text x="486.9" y="81" textLength="26.2" lengthAdjust="spacingAndGlyphs">and</text>
<text x="524.4" y="81" textLength="34.8" lengthAdjust="spacingAndGlyphs">total</text>
<text x="570.5" y="81" textLength="34.5" lengthAdjust="spacingAndGlyphs">(dm;</text>
<text x="616.2" y="81" textLength="75" lengthAdjust="spacingAndGlyphs">contours)</text>
</g>
<g font-size="13.7" fill="#000" stroke="#fff" stroke-width="0">
<text x="617.5" y="89.4" textLength="110.2" lengthAdjust="spacingAndGlyphs">NWS/NCEP/CPC</text>
</g>
<g shape-rendering="crispEdges">
<rect x="209" y="535" width="34.5" height="11" fill="#2882f0"/>
<rect x="243.5" y="535" width="34.5" height="11" fill="#3c96f5"/>
<rect x="278" y="535" width="34.5" height="11" fill="#50a5f5"/>
<rect x="312.5" y="535" width="34.5" height="11" fill="#96d2fa"/>
<rect x="347" y="535" width="34.5" height="11" fill="#b4f0fa"/>
<rect x="416.5" y="535" width="34.5" height="11" fill="#ffe878"/>
<rect x="451" y="535" width="34.5" height="11" fill="#ffc03c"/>
<rect x="485.5" y="535" width="34.5" height="11" fill="#ff6000"/>
<rect x="520" y="535" width="34.5" height="11" fill="#ff3200"/>
<rect x="554.5" y="535" width="34" height="11" fill="#e11400"/>
<path d="M176 541L209 535V546.5Z" fill="#1e6eeb" stroke="#000" stroke-width="0.8" stroke-dasharray="3 2"/>
<path d="M625.5 541L588.5 535V546.5Z" fill="#a50000" stroke="#000" stroke-width="0.8" stroke-dasharray="3 2"/>
</g>
<g stroke="#000" stroke-width="1" fill="none" shape-rendering="crispEdges">
<path d="M209 546.5H589"/>
<path d="M209.5 535V547"/>
<path d="M244.5 535V547"/>
<path d="M278.5 535V547"/>
<path d="M312.5 535V547"/>
<path d="M347.5 535V547"/>
<path d="M382.5 535V547"/>
<path d="M416.5 535V547"/>
<path d="M451.5 535V547"/>
<path d="M486.5 535V547"/>
<path d="M520.5 535V547"/>
<path d="M554.5 535V547"/>
<path d="M588.5 535V547"/>
</g>
<g font-size="9" fill="#000" text-anchor="middle">
<text x="209.5" y="556" textLength="18.5" lengthAdjust="spacingAndGlyphs">-48</text>
<text x="244" y="556" textLength="18.5" lengthAdjust="spacingAndGlyphs">-40</text>
<text x="278.5" y="556" textLength="18.5" lengthAdjust="spacingAndGlyphs">-32</text>
<text x="313" y="556" textLength="18.5" lengthAdjust="spacingAndGlyphs">-24</text>
<text x="347.5" y="556" textLength="18.5" lengthAdjust="spacingAndGlyphs">-16</text>
<text x="382" y="556" textLength="12" lengthAdjust="spacingAndGlyphs">-8</text>
<text x="417" y="556" textLength="5" lengthAdjust="spacingAndGlyphs">8</text>
<text x="451.5" y="556" textLength="11.5" lengthAdjust="spacingAndGlyphs">16</text>
<text x="486" y="556" textLength="11.5" lengthAdjust="spacingAndGlyphs">24</text>
<text x="520.5" y="556" textLength="11.5" lengthAdjust="spacingAndGlyphs">32</text>
<text x="555" y="556" textLength="11.5" lengthAdjust="spacingAndGlyphs">40</text>
<text x="589" y="556" textLength="11.5" lengthAdjust="spacingAndGlyphs">48</text>
</g>
</svg></body></html>
